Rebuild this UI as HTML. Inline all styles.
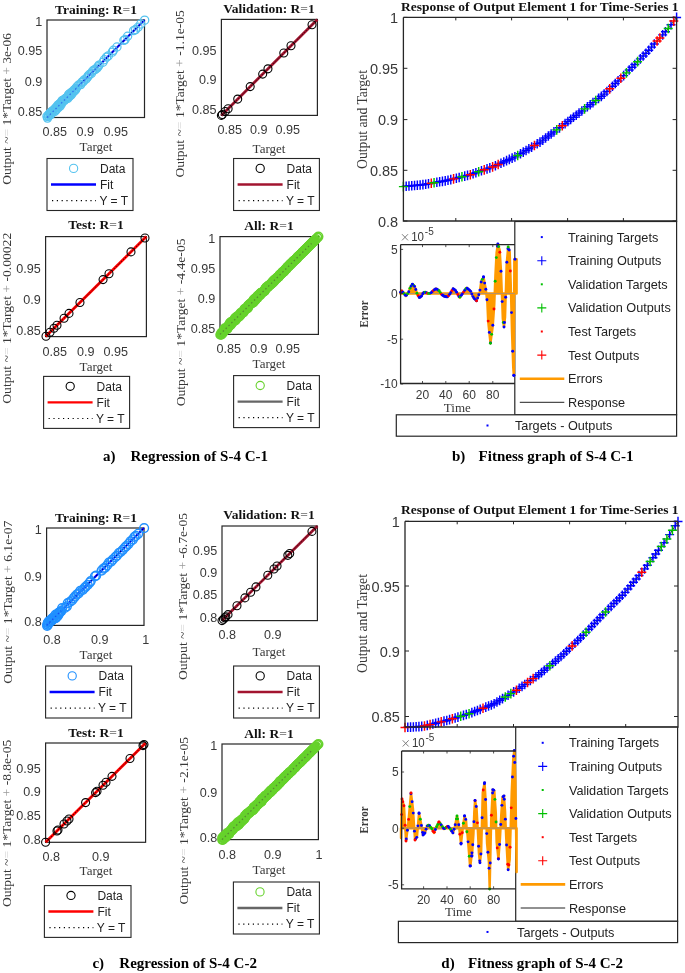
<!DOCTYPE html>
<html><head><meta charset="utf-8"><style>
html,body{margin:0;padding:0;background:#fff;width:685px;height:973px;overflow:hidden}
svg{display:block;filter:blur(0.35px)}
text{font-kerning:normal}
</style></head><body>
<svg width="685" height="973" viewBox="0 0 685 973">
<rect width="685" height="973" fill="#fff"/>
<rect x="47" y="20" width="97.5" height="97.5" fill="none" stroke="#262626" stroke-width="1.2"/>
<line x1="47" y1="117.5" x2="144.5" y2="20" stroke="#0000ff" stroke-width="2.2"/>
<line x1="47" y1="117.5" x2="144.5" y2="20" stroke="#000" stroke-width="0.9" stroke-dasharray="1 1.6"/>
<circle cx="47.53" cy="118.06" r="4.1" fill="none" stroke="#55c3ef" stroke-width="1.25"/>
<circle cx="47.01" cy="116.31" r="4.1" fill="none" stroke="#55c3ef" stroke-width="1.25"/>
<circle cx="48.38" cy="116.34" r="4.1" fill="none" stroke="#55c3ef" stroke-width="1.25"/>
<circle cx="48.65" cy="115.66" r="4.1" fill="none" stroke="#55c3ef" stroke-width="1.25"/>
<circle cx="48.77" cy="114.59" r="4.1" fill="none" stroke="#55c3ef" stroke-width="1.25"/>
<circle cx="50.37" cy="114.98" r="4.1" fill="none" stroke="#55c3ef" stroke-width="1.25"/>
<circle cx="49.76" cy="113.39" r="4.1" fill="none" stroke="#55c3ef" stroke-width="1.25"/>
<circle cx="51.36" cy="113.67" r="4.1" fill="none" stroke="#55c3ef" stroke-width="1.25"/>
<circle cx="51.01" cy="112.08" r="4.1" fill="none" stroke="#55c3ef" stroke-width="1.25"/>
<circle cx="52.19" cy="112.02" r="4.1" fill="none" stroke="#55c3ef" stroke-width="1.25"/>
<circle cx="52.23" cy="111.22" r="4.1" fill="none" stroke="#55c3ef" stroke-width="1.25"/>
<circle cx="52.97" cy="110.69" r="4.1" fill="none" stroke="#55c3ef" stroke-width="1.25"/>
<circle cx="54.79" cy="111.44" r="4.1" fill="none" stroke="#55c3ef" stroke-width="1.25"/>
<circle cx="55.24" cy="110.38" r="4.1" fill="none" stroke="#55c3ef" stroke-width="1.25"/>
<circle cx="54.88" cy="108.9" r="4.1" fill="none" stroke="#55c3ef" stroke-width="1.25"/>
<circle cx="56.38" cy="109.54" r="4.1" fill="none" stroke="#55c3ef" stroke-width="1.25"/>
<circle cx="55.94" cy="107.5" r="4.1" fill="none" stroke="#55c3ef" stroke-width="1.25"/>
<circle cx="56.86" cy="107.25" r="4.1" fill="none" stroke="#55c3ef" stroke-width="1.25"/>
<circle cx="58.22" cy="107.59" r="4.1" fill="none" stroke="#55c3ef" stroke-width="1.25"/>
<circle cx="58.4" cy="106.62" r="4.1" fill="none" stroke="#55c3ef" stroke-width="1.25"/>
<circle cx="57.89" cy="105.15" r="4.1" fill="none" stroke="#55c3ef" stroke-width="1.25"/>
<circle cx="60.07" cy="106.23" r="4.1" fill="none" stroke="#55c3ef" stroke-width="1.25"/>
<circle cx="59.35" cy="104.1" r="4.1" fill="none" stroke="#55c3ef" stroke-width="1.25"/>
<circle cx="59.91" cy="103.7" r="4.1" fill="none" stroke="#55c3ef" stroke-width="1.25"/>
<circle cx="61.47" cy="104.03" r="4.1" fill="none" stroke="#55c3ef" stroke-width="1.25"/>
<circle cx="61.25" cy="102.62" r="4.1" fill="none" stroke="#55c3ef" stroke-width="1.25"/>
<circle cx="61.73" cy="102.03" r="4.1" fill="none" stroke="#55c3ef" stroke-width="1.25"/>
<circle cx="62" cy="100.93" r="4.1" fill="none" stroke="#55c3ef" stroke-width="1.25"/>
<circle cx="62.61" cy="100.38" r="4.1" fill="none" stroke="#55c3ef" stroke-width="1.25"/>
<circle cx="64.2" cy="100.61" r="4.1" fill="none" stroke="#55c3ef" stroke-width="1.25"/>
<circle cx="64.08" cy="99.47" r="4.1" fill="none" stroke="#55c3ef" stroke-width="1.25"/>
<circle cx="65.35" cy="99.52" r="4.1" fill="none" stroke="#55c3ef" stroke-width="1.25"/>
<circle cx="65.48" cy="98.54" r="4.1" fill="none" stroke="#55c3ef" stroke-width="1.25"/>
<circle cx="66.26" cy="98.07" r="4.1" fill="none" stroke="#55c3ef" stroke-width="1.25"/>
<circle cx="67.72" cy="98.46" r="4.1" fill="none" stroke="#55c3ef" stroke-width="1.25"/>
<circle cx="67.39" cy="97.05" r="4.1" fill="none" stroke="#55c3ef" stroke-width="1.25"/>
<circle cx="68.31" cy="96.46" r="4.1" fill="none" stroke="#55c3ef" stroke-width="1.25"/>
<circle cx="69.43" cy="96.41" r="4.1" fill="none" stroke="#55c3ef" stroke-width="1.25"/>
<circle cx="68.73" cy="94.61" r="4.1" fill="none" stroke="#55c3ef" stroke-width="1.25"/>
<circle cx="69.23" cy="94" r="4.1" fill="none" stroke="#55c3ef" stroke-width="1.25"/>
<circle cx="71.11" cy="94.89" r="4.1" fill="none" stroke="#55c3ef" stroke-width="1.25"/>
<circle cx="71.51" cy="94.16" r="4.1" fill="none" stroke="#55c3ef" stroke-width="1.25"/>
<circle cx="71.31" cy="92.77" r="4.1" fill="none" stroke="#55c3ef" stroke-width="1.25"/>
<circle cx="71.79" cy="92.18" r="4.1" fill="none" stroke="#55c3ef" stroke-width="1.25"/>
<circle cx="73.01" cy="91.9" r="4.1" fill="none" stroke="#55c3ef" stroke-width="1.25"/>
<circle cx="73.68" cy="91.57" r="4.1" fill="none" stroke="#55c3ef" stroke-width="1.25"/>
<circle cx="73.73" cy="90.25" r="4.1" fill="none" stroke="#55c3ef" stroke-width="1.25"/>
<circle cx="74.85" cy="90.41" r="4.1" fill="none" stroke="#55c3ef" stroke-width="1.25"/>
<circle cx="75.51" cy="89.64" r="4.1" fill="none" stroke="#55c3ef" stroke-width="1.25"/>
<circle cx="75.83" cy="88.84" r="4.1" fill="none" stroke="#55c3ef" stroke-width="1.25"/>
<circle cx="75.91" cy="88.46" r="4.1" fill="none" stroke="#55c3ef" stroke-width="1.25"/>
<circle cx="77.12" cy="86.71" r="4.1" fill="none" stroke="#55c3ef" stroke-width="1.25"/>
<circle cx="78.81" cy="84.9" r="4.1" fill="none" stroke="#55c3ef" stroke-width="1.25"/>
<circle cx="80.72" cy="84.56" r="4.1" fill="none" stroke="#55c3ef" stroke-width="1.25"/>
<circle cx="81.75" cy="82.31" r="4.1" fill="none" stroke="#55c3ef" stroke-width="1.25"/>
<circle cx="83.19" cy="81.65" r="4.1" fill="none" stroke="#55c3ef" stroke-width="1.25"/>
<circle cx="84" cy="80.09" r="4.1" fill="none" stroke="#55c3ef" stroke-width="1.25"/>
<circle cx="86.15" cy="78.9" r="4.1" fill="none" stroke="#55c3ef" stroke-width="1.25"/>
<circle cx="87.4" cy="77.26" r="4.1" fill="none" stroke="#55c3ef" stroke-width="1.25"/>
<circle cx="88.23" cy="75.92" r="4.1" fill="none" stroke="#55c3ef" stroke-width="1.25"/>
<circle cx="89.4" cy="74.55" r="4.1" fill="none" stroke="#55c3ef" stroke-width="1.25"/>
<circle cx="91.36" cy="73.51" r="4.1" fill="none" stroke="#55c3ef" stroke-width="1.25"/>
<circle cx="92.52" cy="71.25" r="4.1" fill="none" stroke="#55c3ef" stroke-width="1.25"/>
<circle cx="93.91" cy="70.13" r="4.1" fill="none" stroke="#55c3ef" stroke-width="1.25"/>
<circle cx="95.2" cy="69.4" r="4.1" fill="none" stroke="#55c3ef" stroke-width="1.25"/>
<circle cx="96.89" cy="68.21" r="4.1" fill="none" stroke="#55c3ef" stroke-width="1.25"/>
<circle cx="97.97" cy="66.72" r="4.1" fill="none" stroke="#55c3ef" stroke-width="1.25"/>
<circle cx="99.03" cy="65.1" r="4.1" fill="none" stroke="#55c3ef" stroke-width="1.25"/>
<circle cx="102.93" cy="62.28" r="4.1" fill="none" stroke="#55c3ef" stroke-width="1.25"/>
<circle cx="104.27" cy="59.72" r="4.1" fill="none" stroke="#55c3ef" stroke-width="1.25"/>
<circle cx="106.55" cy="57.13" r="4.1" fill="none" stroke="#55c3ef" stroke-width="1.25"/>
<circle cx="108.23" cy="55.88" r="4.1" fill="none" stroke="#55c3ef" stroke-width="1.25"/>
<circle cx="112.28" cy="52.13" r="4.1" fill="none" stroke="#55c3ef" stroke-width="1.25"/>
<circle cx="113.41" cy="50.34" r="4.1" fill="none" stroke="#55c3ef" stroke-width="1.25"/>
<circle cx="116.93" cy="47.03" r="4.1" fill="none" stroke="#55c3ef" stroke-width="1.25"/>
<circle cx="123.91" cy="40.36" r="4.1" fill="none" stroke="#55c3ef" stroke-width="1.25"/>
<circle cx="125.06" cy="39.56" r="4.1" fill="none" stroke="#55c3ef" stroke-width="1.25"/>
<circle cx="127.61" cy="36.26" r="4.1" fill="none" stroke="#55c3ef" stroke-width="1.25"/>
<circle cx="133.66" cy="30.61" r="4.1" fill="none" stroke="#55c3ef" stroke-width="1.25"/>
<circle cx="135.57" cy="29.59" r="4.1" fill="none" stroke="#55c3ef" stroke-width="1.25"/>
<circle cx="138.08" cy="27.23" r="4.1" fill="none" stroke="#55c3ef" stroke-width="1.25"/>
<circle cx="140.73" cy="24.03" r="4.1" fill="none" stroke="#55c3ef" stroke-width="1.25"/>
<circle cx="144.66" cy="20.16" r="4.1" fill="none" stroke="#55c3ef" stroke-width="1.25"/>
<line x1="47" y1="117.5" x2="95.75" y2="68.75" stroke="#2050f0" stroke-width="1.3" stroke-dasharray="1.5 2.5" opacity="0.7"/>
<text x="42.2" y="25.54" font-size="12.6" text-anchor="end" font-family="'Liberation Sans', sans-serif" font-weight="normal" fill="#383838">1</text>
<text x="42.2" y="55.24" font-size="12.6" text-anchor="end" font-family="'Liberation Sans', sans-serif" font-weight="normal" fill="#383838">0.95</text>
<text x="42.2" y="85.84" font-size="12.6" text-anchor="end" font-family="'Liberation Sans', sans-serif" font-weight="normal" fill="#383838">0.9</text>
<text x="42.2" y="115.54" font-size="12.6" text-anchor="end" font-family="'Liberation Sans', sans-serif" font-weight="normal" fill="#383838">0.85</text>
<text x="54.7" y="136.04" font-size="12.6" text-anchor="middle" font-family="'Liberation Sans', sans-serif" font-weight="normal" fill="#383838">0.85</text>
<text x="85.2" y="136.04" font-size="12.6" text-anchor="middle" font-family="'Liberation Sans', sans-serif" font-weight="normal" fill="#383838">0.9</text>
<text x="115.7" y="136.04" font-size="12.6" text-anchor="middle" font-family="'Liberation Sans', sans-serif" font-weight="normal" fill="#383838">0.95</text>
<text x="96" y="150.9" font-size="13" text-anchor="middle" font-family="'Liberation Serif', serif" font-weight="normal" fill="#383838">Target</text>
<text x="96" y="13.86" font-size="13.5" text-anchor="middle" font-family="'Liberation Serif', serif" font-weight="bold" fill="#111">Training: R<tspan fill="#8c8c8c">=</tspan>1</text>
<text x="11.1" y="184.7" font-size="13.5" text-anchor="start" font-family="'Liberation Serif', serif" font-weight="normal" fill="#383838" transform="rotate(-90 11.1 184.7)" textLength="151.7" lengthAdjust="spacingAndGlyphs">Output ~<tspan fill="#d8d8d8">=</tspan> 1*Target <tspan fill="#9a9a9a">+</tspan> 3e-06</text>
<rect x="47" y="158.5" width="86" height="52" fill="#fff" stroke="#262626" stroke-width="1.1"/>
<circle cx="73.6" cy="168.38" r="4.1" fill="none" stroke="#55c3ef" stroke-width="1.1"/>
<text x="100" y="172.7" font-size="12" text-anchor="start" font-family="'Liberation Sans', sans-serif" font-weight="normal" fill="#222">Data</text>
<line x1="51" y1="184.5" x2="96" y2="184.5" stroke="#0000ff" stroke-width="2.4"/>
<text x="100" y="188.82" font-size="12" text-anchor="start" font-family="'Liberation Sans', sans-serif" font-weight="normal" fill="#222">Fit</text>
<line x1="52" y1="200.62" x2="96" y2="200.62" stroke="#000" stroke-width="1.2" stroke-dasharray="1.2 3.6"/>
<text x="99.4" y="204.94" font-size="12" text-anchor="start" font-family="'Liberation Sans', sans-serif" font-weight="normal" fill="#222">Y = T</text>
<rect x="221.4" y="19.4" width="96" height="96" fill="none" stroke="#262626" stroke-width="1.2"/>
<line x1="221.4" y1="115.4" x2="317.4" y2="19.4" stroke="#a2142f" stroke-width="2.8"/>
<line x1="221.4" y1="115.4" x2="317.4" y2="19.4" stroke="#000" stroke-width="0.9" stroke-dasharray="1 1.6"/>
<circle cx="221.4" cy="115.4" r="4.0" fill="none" stroke="#000" stroke-width="1.1"/>
<circle cx="222.36" cy="114.44" r="4.0" fill="none" stroke="#000" stroke-width="1.1"/>
<circle cx="225.24" cy="111.56" r="4.0" fill="none" stroke="#000" stroke-width="1.1"/>
<circle cx="228.12" cy="108.68" r="4.0" fill="none" stroke="#000" stroke-width="1.1"/>
<circle cx="237.72" cy="99.08" r="4.0" fill="none" stroke="#000" stroke-width="1.1"/>
<circle cx="250.2" cy="86.6" r="4.0" fill="none" stroke="#000" stroke-width="1.1"/>
<circle cx="262.68" cy="74.12" r="4.0" fill="none" stroke="#000" stroke-width="1.1"/>
<circle cx="267.96" cy="68.84" r="4.0" fill="none" stroke="#000" stroke-width="1.1"/>
<circle cx="283.8" cy="53" r="4.0" fill="none" stroke="#000" stroke-width="1.1"/>
<circle cx="291" cy="45.8" r="4.0" fill="none" stroke="#000" stroke-width="1.1"/>
<circle cx="312.02" cy="24.78" r="4.0" fill="none" stroke="#000" stroke-width="1.1"/>
<text x="216.6" y="54.54" font-size="12.6" text-anchor="end" font-family="'Liberation Sans', sans-serif" font-weight="normal" fill="#383838">0.95</text>
<text x="216.6" y="84.04" font-size="12.6" text-anchor="end" font-family="'Liberation Sans', sans-serif" font-weight="normal" fill="#383838">0.9</text>
<text x="216.6" y="113.54" font-size="12.6" text-anchor="end" font-family="'Liberation Sans', sans-serif" font-weight="normal" fill="#383838">0.85</text>
<text x="229.7" y="134.04" font-size="12.6" text-anchor="middle" font-family="'Liberation Sans', sans-serif" font-weight="normal" fill="#383838">0.85</text>
<text x="258.7" y="134.04" font-size="12.6" text-anchor="middle" font-family="'Liberation Sans', sans-serif" font-weight="normal" fill="#383838">0.9</text>
<text x="287.7" y="134.04" font-size="12.6" text-anchor="middle" font-family="'Liberation Sans', sans-serif" font-weight="normal" fill="#383838">0.95</text>
<text x="269" y="152.9" font-size="13" text-anchor="middle" font-family="'Liberation Serif', serif" font-weight="normal" fill="#383838">Target</text>
<text x="269" y="13.36" font-size="13.5" text-anchor="middle" font-family="'Liberation Serif', serif" font-weight="bold" fill="#111">Validation: R<tspan fill="#8c8c8c">=</tspan>1</text>
<text x="184" y="177.6" font-size="13.5" text-anchor="start" font-family="'Liberation Serif', serif" font-weight="normal" fill="#383838" transform="rotate(-90 184 177.6)" textLength="167.4" lengthAdjust="spacingAndGlyphs">Output ~<tspan fill="#d8d8d8">=</tspan> 1*Target <tspan fill="#9a9a9a">+</tspan> -1.1e-05</text>
<rect x="233.6" y="158.5" width="85.8" height="52" fill="#fff" stroke="#262626" stroke-width="1.1"/>
<circle cx="260.2" cy="168.38" r="4.1" fill="none" stroke="#000" stroke-width="1.1"/>
<text x="286.6" y="172.7" font-size="12" text-anchor="start" font-family="'Liberation Sans', sans-serif" font-weight="normal" fill="#222">Data</text>
<line x1="237.6" y1="184.5" x2="282.6" y2="184.5" stroke="#a2142f" stroke-width="2.4"/>
<text x="286.6" y="188.82" font-size="12" text-anchor="start" font-family="'Liberation Sans', sans-serif" font-weight="normal" fill="#222">Fit</text>
<line x1="238.6" y1="200.62" x2="282.6" y2="200.62" stroke="#000" stroke-width="1.2" stroke-dasharray="1.2 3.6"/>
<text x="286" y="204.94" font-size="12" text-anchor="start" font-family="'Liberation Sans', sans-serif" font-weight="normal" fill="#222">Y = T</text>
<rect x="45.6" y="236.6" width="100.8" height="100" fill="none" stroke="#262626" stroke-width="1.2"/>
<line x1="45.6" y1="336.6" x2="146.4" y2="236.6" stroke="#ff0000" stroke-width="2.8"/>
<line x1="45.6" y1="336.6" x2="146.4" y2="236.6" stroke="#000" stroke-width="0.9" stroke-dasharray="1 1.6"/>
<circle cx="46" cy="336.2" r="4.0" fill="none" stroke="#000" stroke-width="1.1"/>
<circle cx="50.04" cy="332.2" r="4.0" fill="none" stroke="#000" stroke-width="1.1"/>
<circle cx="53.97" cy="328.3" r="4.0" fill="none" stroke="#000" stroke-width="1.1"/>
<circle cx="56.99" cy="325.3" r="4.0" fill="none" stroke="#000" stroke-width="1.1"/>
<circle cx="64.05" cy="318.3" r="4.0" fill="none" stroke="#000" stroke-width="1.1"/>
<circle cx="68.99" cy="313.4" r="4.0" fill="none" stroke="#000" stroke-width="1.1"/>
<circle cx="79.97" cy="302.5" r="4.0" fill="none" stroke="#000" stroke-width="1.1"/>
<circle cx="103.06" cy="279.6" r="4.0" fill="none" stroke="#000" stroke-width="1.1"/>
<circle cx="109" cy="273.7" r="4.0" fill="none" stroke="#000" stroke-width="1.1"/>
<circle cx="130.98" cy="251.9" r="4.0" fill="none" stroke="#000" stroke-width="1.1"/>
<circle cx="144.99" cy="238" r="4.0" fill="none" stroke="#000" stroke-width="1.1"/>
<text x="40.8" y="272.54" font-size="12.6" text-anchor="end" font-family="'Liberation Sans', sans-serif" font-weight="normal" fill="#383838">0.95</text>
<text x="40.8" y="303.54" font-size="12.6" text-anchor="end" font-family="'Liberation Sans', sans-serif" font-weight="normal" fill="#383838">0.9</text>
<text x="40.8" y="334.54" font-size="12.6" text-anchor="end" font-family="'Liberation Sans', sans-serif" font-weight="normal" fill="#383838">0.85</text>
<text x="54.7" y="355.64" font-size="12.6" text-anchor="middle" font-family="'Liberation Sans', sans-serif" font-weight="normal" fill="#383838">0.85</text>
<text x="85.7" y="355.64" font-size="12.6" text-anchor="middle" font-family="'Liberation Sans', sans-serif" font-weight="normal" fill="#383838">0.9</text>
<text x="115.7" y="355.64" font-size="12.6" text-anchor="middle" font-family="'Liberation Sans', sans-serif" font-weight="normal" fill="#383838">0.95</text>
<text x="96" y="370.5" font-size="13" text-anchor="middle" font-family="'Liberation Serif', serif" font-weight="normal" fill="#383838">Target</text>
<text x="96" y="229.46" font-size="13.5" text-anchor="middle" font-family="'Liberation Serif', serif" font-weight="bold" fill="#111">Test: R<tspan fill="#8c8c8c">=</tspan>1</text>
<text x="10.7" y="403.7" font-size="13.5" text-anchor="start" font-family="'Liberation Serif', serif" font-weight="normal" fill="#383838" transform="rotate(-90 10.7 403.7)" textLength="170.9" lengthAdjust="spacingAndGlyphs">Output ~<tspan fill="#d8d8d8">=</tspan> 1*Target <tspan fill="#9a9a9a">+</tspan> -0.00022</text>
<rect x="43.6" y="376.4" width="86" height="52" fill="#fff" stroke="#262626" stroke-width="1.1"/>
<circle cx="70.2" cy="386.28" r="4.1" fill="none" stroke="#000" stroke-width="1.1"/>
<text x="96.6" y="390.6" font-size="12" text-anchor="start" font-family="'Liberation Sans', sans-serif" font-weight="normal" fill="#222">Data</text>
<line x1="47.6" y1="402.4" x2="92.6" y2="402.4" stroke="#ff0000" stroke-width="2.4"/>
<text x="96.6" y="406.72" font-size="12" text-anchor="start" font-family="'Liberation Sans', sans-serif" font-weight="normal" fill="#222">Fit</text>
<line x1="48.6" y1="418.52" x2="92.6" y2="418.52" stroke="#000" stroke-width="1.2" stroke-dasharray="1.2 3.6"/>
<text x="96" y="422.84" font-size="12" text-anchor="start" font-family="'Liberation Sans', sans-serif" font-weight="normal" fill="#222">Y = T</text>
<rect x="220" y="236.6" width="98.4" height="97.8" fill="none" stroke="#262626" stroke-width="1.2"/>
<line x1="220" y1="334.4" x2="318.4" y2="236.6" stroke="#666666" stroke-width="2.2"/>
<line x1="220" y1="334.4" x2="318.4" y2="236.6" stroke="#000" stroke-width="0.9" stroke-dasharray="1 1.6"/>
<circle cx="220.34" cy="334.74" r="4.3" fill="none" stroke="#66d22c" stroke-width="1.6"/>
<circle cx="221.22" cy="334.65" r="4.3" fill="none" stroke="#66d22c" stroke-width="1.6"/>
<circle cx="221.66" cy="334.1" r="4.3" fill="none" stroke="#66d22c" stroke-width="1.6"/>
<circle cx="221.33" cy="332.78" r="4.3" fill="none" stroke="#66d22c" stroke-width="1.6"/>
<circle cx="222.49" cy="332.97" r="4.3" fill="none" stroke="#66d22c" stroke-width="1.6"/>
<circle cx="223.11" cy="332.61" r="4.3" fill="none" stroke="#66d22c" stroke-width="1.6"/>
<circle cx="223.08" cy="331.6" r="4.3" fill="none" stroke="#66d22c" stroke-width="1.6"/>
<circle cx="223.67" cy="331.2" r="4.3" fill="none" stroke="#66d22c" stroke-width="1.6"/>
<circle cx="223.73" cy="330.28" r="4.3" fill="none" stroke="#66d22c" stroke-width="1.6"/>
<circle cx="224.57" cy="330.14" r="4.3" fill="none" stroke="#66d22c" stroke-width="1.6"/>
<circle cx="225.11" cy="329.7" r="4.3" fill="none" stroke="#66d22c" stroke-width="1.6"/>
<circle cx="224.68" cy="328.29" r="4.3" fill="none" stroke="#66d22c" stroke-width="1.6"/>
<circle cx="226.14" cy="328.77" r="4.3" fill="none" stroke="#66d22c" stroke-width="1.6"/>
<circle cx="227.24" cy="328.89" r="4.3" fill="none" stroke="#66d22c" stroke-width="1.6"/>
<circle cx="227.54" cy="328.21" r="4.3" fill="none" stroke="#66d22c" stroke-width="1.6"/>
<circle cx="227.77" cy="327.45" r="4.3" fill="none" stroke="#66d22c" stroke-width="1.6"/>
<circle cx="227.68" cy="326.39" r="4.3" fill="none" stroke="#66d22c" stroke-width="1.6"/>
<circle cx="228.76" cy="326.48" r="4.3" fill="none" stroke="#66d22c" stroke-width="1.6"/>
<circle cx="228.99" cy="325.73" r="4.3" fill="none" stroke="#66d22c" stroke-width="1.6"/>
<circle cx="229.25" cy="325.01" r="4.3" fill="none" stroke="#66d22c" stroke-width="1.6"/>
<circle cx="230.4" cy="325.18" r="4.3" fill="none" stroke="#66d22c" stroke-width="1.6"/>
<circle cx="229.65" cy="323.44" r="4.3" fill="none" stroke="#66d22c" stroke-width="1.6"/>
<circle cx="231.23" cy="324.05" r="4.3" fill="none" stroke="#66d22c" stroke-width="1.6"/>
<circle cx="230.55" cy="322.39" r="4.3" fill="none" stroke="#66d22c" stroke-width="1.6"/>
<circle cx="231.97" cy="322.83" r="4.3" fill="none" stroke="#66d22c" stroke-width="1.6"/>
<circle cx="232.27" cy="322.14" r="4.3" fill="none" stroke="#66d22c" stroke-width="1.6"/>
<circle cx="232.36" cy="321.25" r="4.3" fill="none" stroke="#66d22c" stroke-width="1.6"/>
<circle cx="233.6" cy="321.51" r="4.3" fill="none" stroke="#66d22c" stroke-width="1.6"/>
<circle cx="233.77" cy="320.7" r="4.3" fill="none" stroke="#66d22c" stroke-width="1.6"/>
<circle cx="234.45" cy="320.4" r="4.3" fill="none" stroke="#66d22c" stroke-width="1.6"/>
<circle cx="235.42" cy="320.39" r="4.3" fill="none" stroke="#66d22c" stroke-width="1.6"/>
<circle cx="234.87" cy="318.86" r="4.3" fill="none" stroke="#66d22c" stroke-width="1.6"/>
<circle cx="234.99" cy="317.99" r="4.3" fill="none" stroke="#66d22c" stroke-width="1.6"/>
<circle cx="235.93" cy="317.96" r="4.3" fill="none" stroke="#66d22c" stroke-width="1.6"/>
<circle cx="237" cy="318.05" r="4.3" fill="none" stroke="#66d22c" stroke-width="1.6"/>
<circle cx="236.77" cy="316.83" r="4.3" fill="none" stroke="#66d22c" stroke-width="1.6"/>
<circle cx="237.22" cy="316.3" r="4.3" fill="none" stroke="#66d22c" stroke-width="1.6"/>
<circle cx="238.81" cy="316.92" r="4.3" fill="none" stroke="#66d22c" stroke-width="1.6"/>
<circle cx="238.93" cy="316.06" r="4.3" fill="none" stroke="#66d22c" stroke-width="1.6"/>
<circle cx="239.1" cy="315.24" r="4.3" fill="none" stroke="#66d22c" stroke-width="1.6"/>
<circle cx="240.25" cy="315.42" r="4.3" fill="none" stroke="#66d22c" stroke-width="1.6"/>
<circle cx="239.92" cy="314.1" r="4.3" fill="none" stroke="#66d22c" stroke-width="1.6"/>
<circle cx="240.9" cy="314.1" r="4.3" fill="none" stroke="#66d22c" stroke-width="1.6"/>
<circle cx="240.72" cy="312.94" r="4.3" fill="none" stroke="#66d22c" stroke-width="1.6"/>
<circle cx="241.55" cy="312.78" r="4.3" fill="none" stroke="#66d22c" stroke-width="1.6"/>
<circle cx="242.57" cy="312.83" r="4.3" fill="none" stroke="#66d22c" stroke-width="1.6"/>
<circle cx="243.22" cy="312.49" r="4.3" fill="none" stroke="#66d22c" stroke-width="1.6"/>
<circle cx="243.66" cy="311.95" r="4.3" fill="none" stroke="#66d22c" stroke-width="1.6"/>
<circle cx="243.45" cy="310.77" r="4.3" fill="none" stroke="#66d22c" stroke-width="1.6"/>
<circle cx="244.22" cy="310.55" r="4.3" fill="none" stroke="#66d22c" stroke-width="1.6"/>
<circle cx="244.35" cy="309.7" r="4.3" fill="none" stroke="#66d22c" stroke-width="1.6"/>
<circle cx="244.6" cy="308.96" r="4.3" fill="none" stroke="#66d22c" stroke-width="1.6"/>
<circle cx="245.58" cy="308.97" r="4.3" fill="none" stroke="#66d22c" stroke-width="1.6"/>
<circle cx="246.53" cy="308.94" r="4.3" fill="none" stroke="#66d22c" stroke-width="1.6"/>
<circle cx="247.03" cy="308.46" r="4.3" fill="none" stroke="#66d22c" stroke-width="1.6"/>
<circle cx="247.34" cy="307.79" r="4.3" fill="none" stroke="#66d22c" stroke-width="1.6"/>
<circle cx="248.15" cy="307.61" r="4.3" fill="none" stroke="#66d22c" stroke-width="1.6"/>
<circle cx="247.75" cy="306.23" r="4.3" fill="none" stroke="#66d22c" stroke-width="1.6"/>
<circle cx="248.11" cy="305.6" r="4.3" fill="none" stroke="#66d22c" stroke-width="1.6"/>
<circle cx="248.96" cy="305.48" r="4.3" fill="none" stroke="#66d22c" stroke-width="1.6"/>
<circle cx="249.23" cy="304.77" r="4.3" fill="none" stroke="#66d22c" stroke-width="1.6"/>
<circle cx="249.65" cy="304.2" r="4.3" fill="none" stroke="#66d22c" stroke-width="1.6"/>
<circle cx="250.4" cy="303.97" r="4.3" fill="none" stroke="#66d22c" stroke-width="1.6"/>
<circle cx="251.15" cy="303.75" r="4.3" fill="none" stroke="#66d22c" stroke-width="1.6"/>
<circle cx="251.48" cy="303.1" r="4.3" fill="none" stroke="#66d22c" stroke-width="1.6"/>
<circle cx="251.75" cy="302.39" r="4.3" fill="none" stroke="#66d22c" stroke-width="1.6"/>
<circle cx="252.89" cy="302.54" r="4.3" fill="none" stroke="#66d22c" stroke-width="1.6"/>
<circle cx="253.55" cy="302.23" r="4.3" fill="none" stroke="#66d22c" stroke-width="1.6"/>
<circle cx="253.4" cy="301.09" r="4.3" fill="none" stroke="#66d22c" stroke-width="1.6"/>
<circle cx="253.44" cy="300.15" r="4.3" fill="none" stroke="#66d22c" stroke-width="1.6"/>
<circle cx="253.88" cy="299.61" r="4.3" fill="none" stroke="#66d22c" stroke-width="1.6"/>
<circle cx="255.37" cy="300.12" r="4.3" fill="none" stroke="#66d22c" stroke-width="1.6"/>
<circle cx="254.89" cy="298.65" r="4.3" fill="none" stroke="#66d22c" stroke-width="1.6"/>
<circle cx="256.16" cy="298.95" r="4.3" fill="none" stroke="#66d22c" stroke-width="1.6"/>
<circle cx="256.49" cy="298.3" r="4.3" fill="none" stroke="#66d22c" stroke-width="1.6"/>
<circle cx="256.68" cy="297.5" r="4.3" fill="none" stroke="#66d22c" stroke-width="1.6"/>
<circle cx="257.72" cy="297.57" r="4.3" fill="none" stroke="#66d22c" stroke-width="1.6"/>
<circle cx="257.34" cy="296.2" r="4.3" fill="none" stroke="#66d22c" stroke-width="1.6"/>
<circle cx="257.97" cy="295.85" r="4.3" fill="none" stroke="#66d22c" stroke-width="1.6"/>
<circle cx="258.82" cy="295.72" r="4.3" fill="none" stroke="#66d22c" stroke-width="1.6"/>
<circle cx="258.84" cy="294.75" r="4.3" fill="none" stroke="#66d22c" stroke-width="1.6"/>
<circle cx="260.21" cy="295.15" r="4.3" fill="none" stroke="#66d22c" stroke-width="1.6"/>
<circle cx="260.06" cy="294.02" r="4.3" fill="none" stroke="#66d22c" stroke-width="1.6"/>
<circle cx="260.45" cy="293.43" r="4.3" fill="none" stroke="#66d22c" stroke-width="1.6"/>
<circle cx="260.85" cy="292.84" r="4.3" fill="none" stroke="#66d22c" stroke-width="1.6"/>
<circle cx="261.96" cy="292.97" r="4.3" fill="none" stroke="#66d22c" stroke-width="1.6"/>
<circle cx="262.26" cy="292.29" r="4.3" fill="none" stroke="#66d22c" stroke-width="1.6"/>
<circle cx="262.94" cy="291.99" r="4.3" fill="none" stroke="#66d22c" stroke-width="1.6"/>
<circle cx="263.46" cy="291.53" r="4.3" fill="none" stroke="#66d22c" stroke-width="1.6"/>
<circle cx="264.1" cy="291.19" r="4.3" fill="none" stroke="#66d22c" stroke-width="1.6"/>
<circle cx="264.74" cy="290.85" r="4.3" fill="none" stroke="#66d22c" stroke-width="1.6"/>
<circle cx="264.96" cy="290.09" r="4.3" fill="none" stroke="#66d22c" stroke-width="1.6"/>
<circle cx="264.97" cy="289.11" r="4.3" fill="none" stroke="#66d22c" stroke-width="1.6"/>
<circle cx="265.73" cy="288.9" r="4.3" fill="none" stroke="#66d22c" stroke-width="1.6"/>
<circle cx="265.94" cy="288.12" r="4.3" fill="none" stroke="#66d22c" stroke-width="1.6"/>
<circle cx="266.27" cy="287.47" r="4.3" fill="none" stroke="#66d22c" stroke-width="1.6"/>
<circle cx="267.21" cy="287.43" r="4.3" fill="none" stroke="#66d22c" stroke-width="1.6"/>
<circle cx="267.93" cy="287.17" r="4.3" fill="none" stroke="#66d22c" stroke-width="1.6"/>
<circle cx="267.92" cy="286.18" r="4.3" fill="none" stroke="#66d22c" stroke-width="1.6"/>
<circle cx="268.5" cy="285.78" r="4.3" fill="none" stroke="#66d22c" stroke-width="1.6"/>
<circle cx="269.06" cy="285.36" r="4.3" fill="none" stroke="#66d22c" stroke-width="1.6"/>
<circle cx="269.87" cy="285.19" r="4.3" fill="none" stroke="#66d22c" stroke-width="1.6"/>
<circle cx="270.2" cy="284.54" r="4.3" fill="none" stroke="#66d22c" stroke-width="1.6"/>
<circle cx="270.78" cy="284.14" r="4.3" fill="none" stroke="#66d22c" stroke-width="1.6"/>
<circle cx="271.39" cy="283.77" r="4.3" fill="none" stroke="#66d22c" stroke-width="1.6"/>
<circle cx="271.57" cy="282.96" r="4.3" fill="none" stroke="#66d22c" stroke-width="1.6"/>
<circle cx="272.4" cy="282.82" r="4.3" fill="none" stroke="#66d22c" stroke-width="1.6"/>
<circle cx="272.99" cy="282.43" r="4.3" fill="none" stroke="#66d22c" stroke-width="1.6"/>
<circle cx="272.79" cy="281.24" r="4.3" fill="none" stroke="#66d22c" stroke-width="1.6"/>
<circle cx="273.99" cy="281.46" r="4.3" fill="none" stroke="#66d22c" stroke-width="1.6"/>
<circle cx="274.3" cy="280.79" r="4.3" fill="none" stroke="#66d22c" stroke-width="1.6"/>
<circle cx="274.31" cy="279.82" r="4.3" fill="none" stroke="#66d22c" stroke-width="1.6"/>
<circle cx="275.07" cy="279.59" r="4.3" fill="none" stroke="#66d22c" stroke-width="1.6"/>
<circle cx="275.7" cy="279.24" r="4.3" fill="none" stroke="#66d22c" stroke-width="1.6"/>
<circle cx="276.41" cy="278.98" r="4.3" fill="none" stroke="#66d22c" stroke-width="1.6"/>
<circle cx="276.48" cy="278.07" r="4.3" fill="none" stroke="#66d22c" stroke-width="1.6"/>
<circle cx="277.12" cy="277.73" r="4.3" fill="none" stroke="#66d22c" stroke-width="1.6"/>
<circle cx="277.85" cy="277.48" r="4.3" fill="none" stroke="#66d22c" stroke-width="1.6"/>
<circle cx="278.28" cy="276.92" r="4.3" fill="none" stroke="#66d22c" stroke-width="1.6"/>
<circle cx="278.88" cy="276.54" r="4.3" fill="none" stroke="#66d22c" stroke-width="1.6"/>
<circle cx="279.01" cy="275.69" r="4.3" fill="none" stroke="#66d22c" stroke-width="1.6"/>
<circle cx="279.64" cy="275.34" r="4.3" fill="none" stroke="#66d22c" stroke-width="1.6"/>
<circle cx="279.81" cy="274.53" r="4.3" fill="none" stroke="#66d22c" stroke-width="1.6"/>
<circle cx="280.67" cy="274.41" r="4.3" fill="none" stroke="#66d22c" stroke-width="1.6"/>
<circle cx="281.23" cy="273.99" r="4.3" fill="none" stroke="#66d22c" stroke-width="1.6"/>
<circle cx="281.6" cy="273.37" r="4.3" fill="none" stroke="#66d22c" stroke-width="1.6"/>
<circle cx="282.14" cy="272.93" r="4.3" fill="none" stroke="#66d22c" stroke-width="1.6"/>
<circle cx="282.29" cy="272.1" r="4.3" fill="none" stroke="#66d22c" stroke-width="1.6"/>
<circle cx="283.24" cy="272.07" r="4.3" fill="none" stroke="#66d22c" stroke-width="1.6"/>
<circle cx="283.78" cy="271.63" r="4.3" fill="none" stroke="#66d22c" stroke-width="1.6"/>
<circle cx="284.27" cy="271.14" r="4.3" fill="none" stroke="#66d22c" stroke-width="1.6"/>
<circle cx="284.48" cy="270.36" r="4.3" fill="none" stroke="#66d22c" stroke-width="1.6"/>
<circle cx="285.13" cy="270.03" r="4.3" fill="none" stroke="#66d22c" stroke-width="1.6"/>
<circle cx="285.33" cy="269.25" r="4.3" fill="none" stroke="#66d22c" stroke-width="1.6"/>
<circle cx="286.18" cy="269.12" r="4.3" fill="none" stroke="#66d22c" stroke-width="1.6"/>
<circle cx="286.63" cy="268.6" r="4.3" fill="none" stroke="#66d22c" stroke-width="1.6"/>
<circle cx="286.82" cy="267.81" r="4.3" fill="none" stroke="#66d22c" stroke-width="1.6"/>
<circle cx="287.16" cy="267.16" r="4.3" fill="none" stroke="#66d22c" stroke-width="1.6"/>
<circle cx="287.86" cy="266.88" r="4.3" fill="none" stroke="#66d22c" stroke-width="1.6"/>
<circle cx="288.42" cy="266.46" r="4.3" fill="none" stroke="#66d22c" stroke-width="1.6"/>
<circle cx="289.03" cy="266.09" r="4.3" fill="none" stroke="#66d22c" stroke-width="1.6"/>
<circle cx="289.37" cy="265.44" r="4.3" fill="none" stroke="#66d22c" stroke-width="1.6"/>
<circle cx="289.61" cy="264.71" r="4.3" fill="none" stroke="#66d22c" stroke-width="1.6"/>
<circle cx="290.52" cy="264.64" r="4.3" fill="none" stroke="#66d22c" stroke-width="1.6"/>
<circle cx="290.62" cy="263.76" r="4.3" fill="none" stroke="#66d22c" stroke-width="1.6"/>
<circle cx="291.49" cy="263.65" r="4.3" fill="none" stroke="#66d22c" stroke-width="1.6"/>
<circle cx="291.67" cy="262.84" r="4.3" fill="none" stroke="#66d22c" stroke-width="1.6"/>
<circle cx="292.24" cy="262.44" r="4.3" fill="none" stroke="#66d22c" stroke-width="1.6"/>
<circle cx="292.95" cy="262.17" r="4.3" fill="none" stroke="#66d22c" stroke-width="1.6"/>
<circle cx="293.14" cy="261.37" r="4.3" fill="none" stroke="#66d22c" stroke-width="1.6"/>
<circle cx="293.64" cy="260.89" r="4.3" fill="none" stroke="#66d22c" stroke-width="1.6"/>
<circle cx="294.3" cy="260.57" r="4.3" fill="none" stroke="#66d22c" stroke-width="1.6"/>
<circle cx="294.88" cy="260.17" r="4.3" fill="none" stroke="#66d22c" stroke-width="1.6"/>
<circle cx="295.42" cy="259.73" r="4.3" fill="none" stroke="#66d22c" stroke-width="1.6"/>
<circle cx="295.85" cy="259.17" r="4.3" fill="none" stroke="#66d22c" stroke-width="1.6"/>
<circle cx="296.44" cy="258.79" r="4.3" fill="none" stroke="#66d22c" stroke-width="1.6"/>
<circle cx="296.75" cy="258.11" r="4.3" fill="none" stroke="#66d22c" stroke-width="1.6"/>
<circle cx="297.42" cy="257.81" r="4.3" fill="none" stroke="#66d22c" stroke-width="1.6"/>
<circle cx="297.58" cy="256.98" r="4.3" fill="none" stroke="#66d22c" stroke-width="1.6"/>
<circle cx="298.12" cy="256.54" r="4.3" fill="none" stroke="#66d22c" stroke-width="1.6"/>
<circle cx="298.73" cy="256.17" r="4.3" fill="none" stroke="#66d22c" stroke-width="1.6"/>
<circle cx="299.14" cy="255.6" r="4.3" fill="none" stroke="#66d22c" stroke-width="1.6"/>
<circle cx="299.78" cy="255.26" r="4.3" fill="none" stroke="#66d22c" stroke-width="1.6"/>
<circle cx="300.24" cy="254.74" r="4.3" fill="none" stroke="#66d22c" stroke-width="1.6"/>
<circle cx="300.7" cy="254.21" r="4.3" fill="none" stroke="#66d22c" stroke-width="1.6"/>
<circle cx="301.29" cy="253.83" r="4.3" fill="none" stroke="#66d22c" stroke-width="1.6"/>
<circle cx="301.69" cy="253.24" r="4.3" fill="none" stroke="#66d22c" stroke-width="1.6"/>
<circle cx="302.11" cy="252.68" r="4.3" fill="none" stroke="#66d22c" stroke-width="1.6"/>
<circle cx="302.62" cy="252.21" r="4.3" fill="none" stroke="#66d22c" stroke-width="1.6"/>
<circle cx="303.25" cy="251.86" r="4.3" fill="none" stroke="#66d22c" stroke-width="1.6"/>
<circle cx="303.75" cy="251.38" r="4.3" fill="none" stroke="#66d22c" stroke-width="1.6"/>
<circle cx="304.05" cy="250.7" r="4.3" fill="none" stroke="#66d22c" stroke-width="1.6"/>
<circle cx="304.71" cy="250.38" r="4.3" fill="none" stroke="#66d22c" stroke-width="1.6"/>
<circle cx="305.23" cy="249.92" r="4.3" fill="none" stroke="#66d22c" stroke-width="1.6"/>
<circle cx="305.61" cy="249.32" r="4.3" fill="none" stroke="#66d22c" stroke-width="1.6"/>
<circle cx="306.12" cy="248.84" r="4.3" fill="none" stroke="#66d22c" stroke-width="1.6"/>
<circle cx="306.53" cy="248.27" r="4.3" fill="none" stroke="#66d22c" stroke-width="1.6"/>
<circle cx="307.09" cy="247.85" r="4.3" fill="none" stroke="#66d22c" stroke-width="1.6"/>
<circle cx="307.58" cy="247.36" r="4.3" fill="none" stroke="#66d22c" stroke-width="1.6"/>
<circle cx="308.09" cy="246.89" r="4.3" fill="none" stroke="#66d22c" stroke-width="1.6"/>
<circle cx="308.47" cy="246.29" r="4.3" fill="none" stroke="#66d22c" stroke-width="1.6"/>
<circle cx="309.13" cy="245.97" r="4.3" fill="none" stroke="#66d22c" stroke-width="1.6"/>
<circle cx="309.55" cy="245.4" r="4.3" fill="none" stroke="#66d22c" stroke-width="1.6"/>
<circle cx="310.02" cy="244.9" r="4.3" fill="none" stroke="#66d22c" stroke-width="1.6"/>
<circle cx="310.57" cy="244.47" r="4.3" fill="none" stroke="#66d22c" stroke-width="1.6"/>
<circle cx="311.03" cy="243.94" r="4.3" fill="none" stroke="#66d22c" stroke-width="1.6"/>
<circle cx="311.51" cy="243.44" r="4.3" fill="none" stroke="#66d22c" stroke-width="1.6"/>
<circle cx="312.03" cy="242.98" r="4.3" fill="none" stroke="#66d22c" stroke-width="1.6"/>
<circle cx="312.45" cy="242.42" r="4.3" fill="none" stroke="#66d22c" stroke-width="1.6"/>
<circle cx="312.99" cy="241.98" r="4.3" fill="none" stroke="#66d22c" stroke-width="1.6"/>
<circle cx="313.47" cy="241.48" r="4.3" fill="none" stroke="#66d22c" stroke-width="1.6"/>
<circle cx="314.01" cy="241.04" r="4.3" fill="none" stroke="#66d22c" stroke-width="1.6"/>
<circle cx="314.5" cy="240.54" r="4.3" fill="none" stroke="#66d22c" stroke-width="1.6"/>
<circle cx="314.94" cy="240.01" r="4.3" fill="none" stroke="#66d22c" stroke-width="1.6"/>
<circle cx="315.94" cy="239.05" r="4.3" fill="none" stroke="#66d22c" stroke-width="1.6"/>
<circle cx="317.42" cy="237.58" r="4.3" fill="none" stroke="#66d22c" stroke-width="1.6"/>
<circle cx="318.4" cy="236.6" r="4.3" fill="none" stroke="#66d22c" stroke-width="1.6"/>
<line x1="220" y1="334.4" x2="311.51" y2="243.45" stroke="#4d6d35" stroke-width="1.3" stroke-dasharray="1.5 2.5" opacity="0.7"/>
<text x="215.2" y="242.54" font-size="12.6" text-anchor="end" font-family="'Liberation Sans', sans-serif" font-weight="normal" fill="#383838">1</text>
<text x="215.2" y="272.54" font-size="12.6" text-anchor="end" font-family="'Liberation Sans', sans-serif" font-weight="normal" fill="#383838">0.95</text>
<text x="215.2" y="302.54" font-size="12.6" text-anchor="end" font-family="'Liberation Sans', sans-serif" font-weight="normal" fill="#383838">0.9</text>
<text x="215.2" y="332.54" font-size="12.6" text-anchor="end" font-family="'Liberation Sans', sans-serif" font-weight="normal" fill="#383838">0.85</text>
<text x="228.7" y="353.04" font-size="12.6" text-anchor="middle" font-family="'Liberation Sans', sans-serif" font-weight="normal" fill="#383838">0.85</text>
<text x="258.7" y="353.04" font-size="12.6" text-anchor="middle" font-family="'Liberation Sans', sans-serif" font-weight="normal" fill="#383838">0.9</text>
<text x="287.7" y="353.04" font-size="12.6" text-anchor="middle" font-family="'Liberation Sans', sans-serif" font-weight="normal" fill="#383838">0.95</text>
<text x="269" y="367.9" font-size="13" text-anchor="middle" font-family="'Liberation Serif', serif" font-weight="normal" fill="#383838">Target</text>
<text x="269" y="229.86" font-size="13.5" text-anchor="middle" font-family="'Liberation Serif', serif" font-weight="bold" fill="#111">All: R<tspan fill="#8c8c8c">=</tspan>1</text>
<text x="185" y="406.3" font-size="13.5" text-anchor="start" font-family="'Liberation Serif', serif" font-weight="normal" fill="#383838" transform="rotate(-90 185 406.3)" textLength="167.8" lengthAdjust="spacingAndGlyphs">Output ~<tspan fill="#d8d8d8">=</tspan> 1*Target <tspan fill="#9a9a9a">+</tspan> -4.4e-05</text>
<rect x="233.6" y="375.6" width="85.8" height="52" fill="#fff" stroke="#262626" stroke-width="1.1"/>
<circle cx="260.2" cy="385.48" r="4.1" fill="none" stroke="#66d22c" stroke-width="1.1"/>
<text x="286.6" y="389.8" font-size="12" text-anchor="start" font-family="'Liberation Sans', sans-serif" font-weight="normal" fill="#222">Data</text>
<line x1="237.6" y1="401.6" x2="282.6" y2="401.6" stroke="#666666" stroke-width="2.4"/>
<text x="286.6" y="405.92" font-size="12" text-anchor="start" font-family="'Liberation Sans', sans-serif" font-weight="normal" fill="#222">Fit</text>
<line x1="238.6" y1="417.72" x2="282.6" y2="417.72" stroke="#000" stroke-width="1.2" stroke-dasharray="1.2 3.6"/>
<text x="286" y="422.04" font-size="12" text-anchor="start" font-family="'Liberation Sans', sans-serif" font-weight="normal" fill="#222">Y = T</text>
<rect x="46.6" y="528" width="97.4" height="97.4" fill="none" stroke="#262626" stroke-width="1.2"/>
<line x1="46.6" y1="625.4" x2="144" y2="528" stroke="#0000ff" stroke-width="2.2"/>
<line x1="46.6" y1="625.4" x2="144" y2="528" stroke="#000" stroke-width="0.9" stroke-dasharray="1 1.6"/>
<circle cx="47.15" cy="625.8" r="4.4" fill="none" stroke="#2090ff" stroke-width="1.4"/>
<circle cx="47.28" cy="624.73" r="4.4" fill="none" stroke="#2090ff" stroke-width="1.4"/>
<circle cx="48.1" cy="624.58" r="4.4" fill="none" stroke="#2090ff" stroke-width="1.4"/>
<circle cx="47.74" cy="623.12" r="4.4" fill="none" stroke="#2090ff" stroke-width="1.4"/>
<circle cx="48.08" cy="622.34" r="4.4" fill="none" stroke="#2090ff" stroke-width="1.4"/>
<circle cx="48.83" cy="621.73" r="4.4" fill="none" stroke="#2090ff" stroke-width="1.4"/>
<circle cx="49.36" cy="620.94" r="4.4" fill="none" stroke="#2090ff" stroke-width="1.4"/>
<circle cx="50.7" cy="621.49" r="4.4" fill="none" stroke="#2090ff" stroke-width="1.4"/>
<circle cx="51.37" cy="620.69" r="4.4" fill="none" stroke="#2090ff" stroke-width="1.4"/>
<circle cx="51.87" cy="620.38" r="4.4" fill="none" stroke="#2090ff" stroke-width="1.4"/>
<circle cx="51.72" cy="618.98" r="4.4" fill="none" stroke="#2090ff" stroke-width="1.4"/>
<circle cx="52.38" cy="618.46" r="4.4" fill="none" stroke="#2090ff" stroke-width="1.4"/>
<circle cx="53.11" cy="617.8" r="4.4" fill="none" stroke="#2090ff" stroke-width="1.4"/>
<circle cx="54.78" cy="618.47" r="4.4" fill="none" stroke="#2090ff" stroke-width="1.4"/>
<circle cx="55.65" cy="618.15" r="4.4" fill="none" stroke="#2090ff" stroke-width="1.4"/>
<circle cx="56.18" cy="617.39" r="4.4" fill="none" stroke="#2090ff" stroke-width="1.4"/>
<circle cx="55.11" cy="615.4" r="4.4" fill="none" stroke="#2090ff" stroke-width="1.4"/>
<circle cx="55.78" cy="614.61" r="4.4" fill="none" stroke="#2090ff" stroke-width="1.4"/>
<circle cx="57.86" cy="615.8" r="4.4" fill="none" stroke="#2090ff" stroke-width="1.4"/>
<circle cx="57.64" cy="614.22" r="4.4" fill="none" stroke="#2090ff" stroke-width="1.4"/>
<circle cx="58.72" cy="614.26" r="4.4" fill="none" stroke="#2090ff" stroke-width="1.4"/>
<circle cx="58.48" cy="612.88" r="4.4" fill="none" stroke="#2090ff" stroke-width="1.4"/>
<circle cx="59.4" cy="612.48" r="4.4" fill="none" stroke="#2090ff" stroke-width="1.4"/>
<circle cx="60.05" cy="612" r="4.4" fill="none" stroke="#2090ff" stroke-width="1.4"/>
<circle cx="60.47" cy="611.27" r="4.4" fill="none" stroke="#2090ff" stroke-width="1.4"/>
<circle cx="61.33" cy="611.04" r="4.4" fill="none" stroke="#2090ff" stroke-width="1.4"/>
<circle cx="62.09" cy="608.12" r="4.4" fill="none" stroke="#2090ff" stroke-width="1.4"/>
<circle cx="64.85" cy="607.89" r="4.4" fill="none" stroke="#2090ff" stroke-width="1.4"/>
<circle cx="66.9" cy="606.37" r="4.4" fill="none" stroke="#2090ff" stroke-width="1.4"/>
<circle cx="67.73" cy="603.1" r="4.4" fill="none" stroke="#2090ff" stroke-width="1.4"/>
<circle cx="69.99" cy="601.84" r="4.4" fill="none" stroke="#2090ff" stroke-width="1.4"/>
<circle cx="71.95" cy="600.45" r="4.4" fill="none" stroke="#2090ff" stroke-width="1.4"/>
<circle cx="73.65" cy="598.19" r="4.4" fill="none" stroke="#2090ff" stroke-width="1.4"/>
<circle cx="75.06" cy="596.43" r="4.4" fill="none" stroke="#2090ff" stroke-width="1.4"/>
<circle cx="76.95" cy="594.48" r="4.4" fill="none" stroke="#2090ff" stroke-width="1.4"/>
<circle cx="78.57" cy="593.46" r="4.4" fill="none" stroke="#2090ff" stroke-width="1.4"/>
<circle cx="80.25" cy="590.92" r="4.4" fill="none" stroke="#2090ff" stroke-width="1.4"/>
<circle cx="82.8" cy="589.87" r="4.4" fill="none" stroke="#2090ff" stroke-width="1.4"/>
<circle cx="84.54" cy="587.97" r="4.4" fill="none" stroke="#2090ff" stroke-width="1.4"/>
<circle cx="85.8" cy="586.55" r="4.4" fill="none" stroke="#2090ff" stroke-width="1.4"/>
<circle cx="87.68" cy="584.93" r="4.4" fill="none" stroke="#2090ff" stroke-width="1.4"/>
<circle cx="89.67" cy="582.55" r="4.4" fill="none" stroke="#2090ff" stroke-width="1.4"/>
<circle cx="90.74" cy="581.1" r="4.4" fill="none" stroke="#2090ff" stroke-width="1.4"/>
<circle cx="101.62" cy="570.55" r="4.4" fill="none" stroke="#2090ff" stroke-width="1.4"/>
<circle cx="103.4" cy="568.61" r="4.4" fill="none" stroke="#2090ff" stroke-width="1.4"/>
<circle cx="105.16" cy="567.65" r="4.4" fill="none" stroke="#2090ff" stroke-width="1.4"/>
<circle cx="107.04" cy="565.47" r="4.4" fill="none" stroke="#2090ff" stroke-width="1.4"/>
<circle cx="108.91" cy="562.68" r="4.4" fill="none" stroke="#2090ff" stroke-width="1.4"/>
<circle cx="111.05" cy="561.65" r="4.4" fill="none" stroke="#2090ff" stroke-width="1.4"/>
<circle cx="112.73" cy="559.69" r="4.4" fill="none" stroke="#2090ff" stroke-width="1.4"/>
<circle cx="115.27" cy="557.2" r="4.4" fill="none" stroke="#2090ff" stroke-width="1.4"/>
<circle cx="116.93" cy="555.6" r="4.4" fill="none" stroke="#2090ff" stroke-width="1.4"/>
<circle cx="118.82" cy="553.02" r="4.4" fill="none" stroke="#2090ff" stroke-width="1.4"/>
<circle cx="120.67" cy="552" r="4.4" fill="none" stroke="#2090ff" stroke-width="1.4"/>
<circle cx="122.82" cy="549.83" r="4.4" fill="none" stroke="#2090ff" stroke-width="1.4"/>
<circle cx="124.83" cy="547.5" r="4.4" fill="none" stroke="#2090ff" stroke-width="1.4"/>
<circle cx="126.32" cy="546.13" r="4.4" fill="none" stroke="#2090ff" stroke-width="1.4"/>
<circle cx="128.41" cy="544.04" r="4.4" fill="none" stroke="#2090ff" stroke-width="1.4"/>
<circle cx="130.43" cy="541.41" r="4.4" fill="none" stroke="#2090ff" stroke-width="1.4"/>
<circle cx="132.82" cy="539.56" r="4.4" fill="none" stroke="#2090ff" stroke-width="1.4"/>
<circle cx="134.26" cy="537.01" r="4.4" fill="none" stroke="#2090ff" stroke-width="1.4"/>
<circle cx="135.77" cy="535.96" r="4.4" fill="none" stroke="#2090ff" stroke-width="1.4"/>
<circle cx="138.13" cy="533.81" r="4.4" fill="none" stroke="#2090ff" stroke-width="1.4"/>
<circle cx="94.88" cy="576.28" r="4.4" fill="none" stroke="#2090ff" stroke-width="1.4"/>
<circle cx="96.15" cy="575.6" r="4.4" fill="none" stroke="#2090ff" stroke-width="1.4"/>
<circle cx="144.12" cy="528.12" r="4.4" fill="none" stroke="#2090ff" stroke-width="1.4"/>
<line x1="46.6" y1="625.4" x2="61.21" y2="610.79" stroke="#1030f0" stroke-width="1.3" stroke-dasharray="1.5 2.5" opacity="0.7"/>
<text x="41.8" y="533.54" font-size="12.6" text-anchor="end" font-family="'Liberation Sans', sans-serif" font-weight="normal" fill="#383838">1</text>
<text x="41.8" y="580.54" font-size="12.6" text-anchor="end" font-family="'Liberation Sans', sans-serif" font-weight="normal" fill="#383838">0.9</text>
<text x="41.8" y="626.14" font-size="12.6" text-anchor="end" font-family="'Liberation Sans', sans-serif" font-weight="normal" fill="#383838">0.8</text>
<text x="52.1" y="644.04" font-size="12.6" text-anchor="middle" font-family="'Liberation Sans', sans-serif" font-weight="normal" fill="#383838">0.8</text>
<text x="99.7" y="644.04" font-size="12.6" text-anchor="middle" font-family="'Liberation Sans', sans-serif" font-weight="normal" fill="#383838">0.9</text>
<text x="145.7" y="644.04" font-size="12.6" text-anchor="middle" font-family="'Liberation Sans', sans-serif" font-weight="normal" fill="#383838">1</text>
<text x="96" y="658.5" font-size="13" text-anchor="middle" font-family="'Liberation Serif', serif" font-weight="normal" fill="#383838">Target</text>
<text x="96" y="521.86" font-size="13.5" text-anchor="middle" font-family="'Liberation Serif', serif" font-weight="bold" fill="#111">Training: R<tspan fill="#8c8c8c">=</tspan>1</text>
<text x="12.2" y="683.7" font-size="13.5" text-anchor="start" font-family="'Liberation Serif', serif" font-weight="normal" fill="#383838" transform="rotate(-90 12.2 683.7)" textLength="163" lengthAdjust="spacingAndGlyphs">Output ~<tspan fill="#d8d8d8">=</tspan> 1*Target <tspan fill="#9a9a9a">+</tspan> 6.1e-07</text>
<rect x="45.6" y="666" width="86" height="52" fill="#fff" stroke="#262626" stroke-width="1.1"/>
<circle cx="72.2" cy="675.88" r="4.1" fill="none" stroke="#2090ff" stroke-width="1.1"/>
<text x="98.6" y="680.2" font-size="12" text-anchor="start" font-family="'Liberation Sans', sans-serif" font-weight="normal" fill="#222">Data</text>
<line x1="49.6" y1="692" x2="94.6" y2="692" stroke="#0000ff" stroke-width="2.4"/>
<text x="98.6" y="696.32" font-size="12" text-anchor="start" font-family="'Liberation Sans', sans-serif" font-weight="normal" fill="#222">Fit</text>
<line x1="50.6" y1="708.12" x2="94.6" y2="708.12" stroke="#000" stroke-width="1.2" stroke-dasharray="1.2 3.6"/>
<text x="98" y="712.44" font-size="12" text-anchor="start" font-family="'Liberation Sans', sans-serif" font-weight="normal" fill="#222">Y = T</text>
<rect x="222" y="526" width="95.4" height="94.6" fill="none" stroke="#262626" stroke-width="1.2"/>
<line x1="222" y1="620.6" x2="317.4" y2="526" stroke="#a2142f" stroke-width="2.8"/>
<line x1="222" y1="620.6" x2="317.4" y2="526" stroke="#000" stroke-width="0.9" stroke-dasharray="1 1.6"/>
<circle cx="222" cy="620.6" r="4.0" fill="none" stroke="#000" stroke-width="1.1"/>
<circle cx="223.43" cy="619.18" r="4.0" fill="none" stroke="#000" stroke-width="1.1"/>
<circle cx="224.86" cy="617.76" r="4.0" fill="none" stroke="#000" stroke-width="1.1"/>
<circle cx="225.82" cy="616.82" r="4.0" fill="none" stroke="#000" stroke-width="1.1"/>
<circle cx="228.01" cy="614.64" r="4.0" fill="none" stroke="#000" stroke-width="1.1"/>
<circle cx="236.98" cy="605.75" r="4.0" fill="none" stroke="#000" stroke-width="1.1"/>
<circle cx="244.9" cy="597.9" r="4.0" fill="none" stroke="#000" stroke-width="1.1"/>
<circle cx="250.62" cy="592.22" r="4.0" fill="none" stroke="#000" stroke-width="1.1"/>
<circle cx="255.96" cy="586.92" r="4.0" fill="none" stroke="#000" stroke-width="1.1"/>
<circle cx="267.79" cy="575.19" r="4.0" fill="none" stroke="#000" stroke-width="1.1"/>
<circle cx="273.99" cy="569.04" r="4.0" fill="none" stroke="#000" stroke-width="1.1"/>
<circle cx="277.05" cy="566.02" r="4.0" fill="none" stroke="#000" stroke-width="1.1"/>
<circle cx="287.83" cy="555.33" r="4.0" fill="none" stroke="#000" stroke-width="1.1"/>
<circle cx="289.73" cy="553.43" r="4.0" fill="none" stroke="#000" stroke-width="1.1"/>
<circle cx="311.96" cy="531.39" r="4.0" fill="none" stroke="#000" stroke-width="1.1"/>
<text x="217.2" y="554.54" font-size="12.6" text-anchor="end" font-family="'Liberation Sans', sans-serif" font-weight="normal" fill="#383838">0.95</text>
<text x="217.2" y="576.94" font-size="12.6" text-anchor="end" font-family="'Liberation Sans', sans-serif" font-weight="normal" fill="#383838">0.9</text>
<text x="217.2" y="599.14" font-size="12.6" text-anchor="end" font-family="'Liberation Sans', sans-serif" font-weight="normal" fill="#383838">0.85</text>
<text x="217.2" y="621.54" font-size="12.6" text-anchor="end" font-family="'Liberation Sans', sans-serif" font-weight="normal" fill="#383838">0.8</text>
<text x="227.3" y="639.04" font-size="12.6" text-anchor="middle" font-family="'Liberation Sans', sans-serif" font-weight="normal" fill="#383838">0.8</text>
<text x="272.7" y="639.04" font-size="12.6" text-anchor="middle" font-family="'Liberation Sans', sans-serif" font-weight="normal" fill="#383838">0.9</text>
<text x="269" y="656.3" font-size="13" text-anchor="middle" font-family="'Liberation Serif', serif" font-weight="normal" fill="#383838">Target</text>
<text x="269" y="519.46" font-size="13.5" text-anchor="middle" font-family="'Liberation Serif', serif" font-weight="bold" fill="#111">Validation: R<tspan fill="#8c8c8c">=</tspan>1</text>
<text x="186.5" y="680" font-size="13.5" text-anchor="start" font-family="'Liberation Serif', serif" font-weight="normal" fill="#383838" transform="rotate(-90 186.5 680)" textLength="167.1" lengthAdjust="spacingAndGlyphs">Output ~<tspan fill="#d8d8d8">=</tspan> 1*Target <tspan fill="#9a9a9a">+</tspan> -6.7e-05</text>
<rect x="233.6" y="666" width="85.8" height="52" fill="#fff" stroke="#262626" stroke-width="1.1"/>
<circle cx="260.2" cy="675.88" r="4.1" fill="none" stroke="#000" stroke-width="1.1"/>
<text x="286.6" y="680.2" font-size="12" text-anchor="start" font-family="'Liberation Sans', sans-serif" font-weight="normal" fill="#222">Data</text>
<line x1="237.6" y1="692" x2="282.6" y2="692" stroke="#a2142f" stroke-width="2.4"/>
<text x="286.6" y="696.32" font-size="12" text-anchor="start" font-family="'Liberation Sans', sans-serif" font-weight="normal" fill="#222">Fit</text>
<line x1="238.6" y1="708.12" x2="282.6" y2="708.12" stroke="#000" stroke-width="1.2" stroke-dasharray="1.2 3.6"/>
<text x="286" y="712.44" font-size="12" text-anchor="start" font-family="'Liberation Sans', sans-serif" font-weight="normal" fill="#222">Y = T</text>
<rect x="45.6" y="743" width="100" height="99.3" fill="none" stroke="#262626" stroke-width="1.2"/>
<line x1="45.6" y1="842.3" x2="145.6" y2="743" stroke="#ff0000" stroke-width="2.8"/>
<line x1="45.6" y1="842.3" x2="145.6" y2="743" stroke="#000" stroke-width="0.9" stroke-dasharray="1 1.6"/>
<circle cx="45.6" cy="842.3" r="4.0" fill="none" stroke="#000" stroke-width="1.1"/>
<circle cx="57" cy="830.98" r="4.0" fill="none" stroke="#000" stroke-width="1.1"/>
<circle cx="58" cy="829.99" r="4.0" fill="none" stroke="#000" stroke-width="1.1"/>
<circle cx="64" cy="824.03" r="4.0" fill="none" stroke="#000" stroke-width="1.1"/>
<circle cx="67" cy="821.05" r="4.0" fill="none" stroke="#000" stroke-width="1.1"/>
<circle cx="69" cy="819.06" r="4.0" fill="none" stroke="#000" stroke-width="1.1"/>
<circle cx="85.6" cy="802.58" r="4.0" fill="none" stroke="#000" stroke-width="1.1"/>
<circle cx="95.6" cy="792.65" r="4.0" fill="none" stroke="#000" stroke-width="1.1"/>
<circle cx="97" cy="791.26" r="4.0" fill="none" stroke="#000" stroke-width="1.1"/>
<circle cx="103" cy="785.3" r="4.0" fill="none" stroke="#000" stroke-width="1.1"/>
<circle cx="106" cy="782.32" r="4.0" fill="none" stroke="#000" stroke-width="1.1"/>
<circle cx="112" cy="776.36" r="4.0" fill="none" stroke="#000" stroke-width="1.1"/>
<circle cx="130" cy="758.49" r="4.0" fill="none" stroke="#000" stroke-width="1.1"/>
<circle cx="143" cy="745.58" r="4.0" fill="none" stroke="#000" stroke-width="1.1"/>
<circle cx="144" cy="744.59" r="4.0" fill="none" stroke="#000" stroke-width="1.1"/>
<text x="40.8" y="772.54" font-size="12.6" text-anchor="end" font-family="'Liberation Sans', sans-serif" font-weight="normal" fill="#383838">0.95</text>
<text x="40.8" y="795.54" font-size="12.6" text-anchor="end" font-family="'Liberation Sans', sans-serif" font-weight="normal" fill="#383838">0.9</text>
<text x="40.8" y="819.54" font-size="12.6" text-anchor="end" font-family="'Liberation Sans', sans-serif" font-weight="normal" fill="#383838">0.85</text>
<text x="40.8" y="843.54" font-size="12.6" text-anchor="end" font-family="'Liberation Sans', sans-serif" font-weight="normal" fill="#383838">0.8</text>
<text x="51.3" y="860.64" font-size="12.6" text-anchor="middle" font-family="'Liberation Sans', sans-serif" font-weight="normal" fill="#383838">0.8</text>
<text x="100.7" y="860.64" font-size="12.6" text-anchor="middle" font-family="'Liberation Sans', sans-serif" font-weight="normal" fill="#383838">0.9</text>
<text x="96" y="875.3" font-size="13" text-anchor="middle" font-family="'Liberation Serif', serif" font-weight="normal" fill="#383838">Target</text>
<text x="96" y="737.46" font-size="13.5" text-anchor="middle" font-family="'Liberation Serif', serif" font-weight="bold" fill="#111">Test: R<tspan fill="#8c8c8c">=</tspan>1</text>
<text x="10.9" y="907" font-size="13.5" text-anchor="start" font-family="'Liberation Serif', serif" font-weight="normal" fill="#383838" transform="rotate(-90 10.9 907)" textLength="167.2" lengthAdjust="spacingAndGlyphs">Output ~<tspan fill="#d8d8d8">=</tspan> 1*Target <tspan fill="#9a9a9a">+</tspan> -8.8e-05</text>
<rect x="44.4" y="885.6" width="86.6" height="51.8" fill="#fff" stroke="#262626" stroke-width="1.1"/>
<circle cx="71" cy="895.44" r="4.1" fill="none" stroke="#000" stroke-width="1.1"/>
<text x="97.4" y="899.76" font-size="12" text-anchor="start" font-family="'Liberation Sans', sans-serif" font-weight="normal" fill="#222">Data</text>
<line x1="48.4" y1="911.5" x2="93.4" y2="911.5" stroke="#ff0000" stroke-width="2.4"/>
<text x="97.4" y="915.82" font-size="12" text-anchor="start" font-family="'Liberation Sans', sans-serif" font-weight="normal" fill="#222">Fit</text>
<line x1="49.4" y1="927.56" x2="93.4" y2="927.56" stroke="#000" stroke-width="1.2" stroke-dasharray="1.2 3.6"/>
<text x="96.8" y="931.88" font-size="12" text-anchor="start" font-family="'Liberation Sans', sans-serif" font-weight="normal" fill="#222">Y = T</text>
<rect x="222" y="744" width="96.4" height="95.6" fill="none" stroke="#262626" stroke-width="1.2"/>
<line x1="222" y1="839.6" x2="318.4" y2="744" stroke="#666666" stroke-width="2.2"/>
<line x1="222" y1="839.6" x2="318.4" y2="744" stroke="#000" stroke-width="0.9" stroke-dasharray="1 1.6"/>
<circle cx="222.25" cy="839.85" r="4.3" fill="none" stroke="#66d22c" stroke-width="1.6"/>
<circle cx="223.05" cy="839.69" r="4.3" fill="none" stroke="#66d22c" stroke-width="1.6"/>
<circle cx="222.2" cy="837.87" r="4.3" fill="none" stroke="#66d22c" stroke-width="1.6"/>
<circle cx="223.62" cy="838.34" r="4.3" fill="none" stroke="#66d22c" stroke-width="1.6"/>
<circle cx="224.39" cy="838.16" r="4.3" fill="none" stroke="#66d22c" stroke-width="1.6"/>
<circle cx="223.6" cy="836.39" r="4.3" fill="none" stroke="#66d22c" stroke-width="1.6"/>
<circle cx="225.66" cy="837.5" r="4.3" fill="none" stroke="#66d22c" stroke-width="1.6"/>
<circle cx="224.77" cy="835.65" r="4.3" fill="none" stroke="#66d22c" stroke-width="1.6"/>
<circle cx="225.81" cy="835.73" r="4.3" fill="none" stroke="#66d22c" stroke-width="1.6"/>
<circle cx="225.76" cy="834.71" r="4.3" fill="none" stroke="#66d22c" stroke-width="1.6"/>
<circle cx="226.81" cy="834.81" r="4.3" fill="none" stroke="#66d22c" stroke-width="1.6"/>
<circle cx="227.49" cy="834.54" r="4.3" fill="none" stroke="#66d22c" stroke-width="1.6"/>
<circle cx="227.02" cy="833.1" r="4.3" fill="none" stroke="#66d22c" stroke-width="1.6"/>
<circle cx="229.03" cy="834.15" r="4.3" fill="none" stroke="#66d22c" stroke-width="1.6"/>
<circle cx="228.61" cy="832.77" r="4.3" fill="none" stroke="#66d22c" stroke-width="1.6"/>
<circle cx="229.28" cy="832.48" r="4.3" fill="none" stroke="#66d22c" stroke-width="1.6"/>
<circle cx="229.88" cy="832.12" r="4.3" fill="none" stroke="#66d22c" stroke-width="1.6"/>
<circle cx="229.97" cy="831.25" r="4.3" fill="none" stroke="#66d22c" stroke-width="1.6"/>
<circle cx="230.32" cy="830.64" r="4.3" fill="none" stroke="#66d22c" stroke-width="1.6"/>
<circle cx="231.42" cy="830.78" r="4.3" fill="none" stroke="#66d22c" stroke-width="1.6"/>
<circle cx="231.74" cy="830.14" r="4.3" fill="none" stroke="#66d22c" stroke-width="1.6"/>
<circle cx="231.77" cy="829.2" r="4.3" fill="none" stroke="#66d22c" stroke-width="1.6"/>
<circle cx="232.96" cy="829.44" r="4.3" fill="none" stroke="#66d22c" stroke-width="1.6"/>
<circle cx="232.76" cy="828.27" r="4.3" fill="none" stroke="#66d22c" stroke-width="1.6"/>
<circle cx="232.79" cy="827.34" r="4.3" fill="none" stroke="#66d22c" stroke-width="1.6"/>
<circle cx="233.64" cy="827.24" r="4.3" fill="none" stroke="#66d22c" stroke-width="1.6"/>
<circle cx="233.8" cy="826.44" r="4.3" fill="none" stroke="#66d22c" stroke-width="1.6"/>
<circle cx="234.47" cy="826.15" r="4.3" fill="none" stroke="#66d22c" stroke-width="1.6"/>
<circle cx="235.9" cy="826.62" r="4.3" fill="none" stroke="#66d22c" stroke-width="1.6"/>
<circle cx="235.81" cy="825.56" r="4.3" fill="none" stroke="#66d22c" stroke-width="1.6"/>
<circle cx="237.08" cy="825.88" r="4.3" fill="none" stroke="#66d22c" stroke-width="1.6"/>
<circle cx="237.33" cy="825.17" r="4.3" fill="none" stroke="#66d22c" stroke-width="1.6"/>
<circle cx="236.73" cy="823.61" r="4.3" fill="none" stroke="#66d22c" stroke-width="1.6"/>
<circle cx="238.65" cy="824.58" r="4.3" fill="none" stroke="#66d22c" stroke-width="1.6"/>
<circle cx="239.06" cy="824.03" r="4.3" fill="none" stroke="#66d22c" stroke-width="1.6"/>
<circle cx="238.23" cy="822.22" r="4.3" fill="none" stroke="#66d22c" stroke-width="1.6"/>
<circle cx="239.96" cy="823.01" r="4.3" fill="none" stroke="#66d22c" stroke-width="1.6"/>
<circle cx="239.73" cy="821.81" r="4.3" fill="none" stroke="#66d22c" stroke-width="1.6"/>
<circle cx="240.28" cy="821.4" r="4.3" fill="none" stroke="#66d22c" stroke-width="1.6"/>
<circle cx="241.5" cy="821.66" r="4.3" fill="none" stroke="#66d22c" stroke-width="1.6"/>
<circle cx="240.9" cy="820.1" r="4.3" fill="none" stroke="#66d22c" stroke-width="1.6"/>
<circle cx="241.8" cy="820.04" r="4.3" fill="none" stroke="#66d22c" stroke-width="1.6"/>
<circle cx="242.88" cy="820.16" r="4.3" fill="none" stroke="#66d22c" stroke-width="1.6"/>
<circle cx="243.05" cy="819.37" r="4.3" fill="none" stroke="#66d22c" stroke-width="1.6"/>
<circle cx="243.16" cy="818.52" r="4.3" fill="none" stroke="#66d22c" stroke-width="1.6"/>
<circle cx="244.37" cy="818.78" r="4.3" fill="none" stroke="#66d22c" stroke-width="1.6"/>
<circle cx="244.62" cy="818.06" r="4.3" fill="none" stroke="#66d22c" stroke-width="1.6"/>
<circle cx="244.8" cy="817.28" r="4.3" fill="none" stroke="#66d22c" stroke-width="1.6"/>
<circle cx="244.6" cy="816.12" r="4.3" fill="none" stroke="#66d22c" stroke-width="1.6"/>
<circle cx="245.79" cy="816.35" r="4.3" fill="none" stroke="#66d22c" stroke-width="1.6"/>
<circle cx="246.04" cy="815.64" r="4.3" fill="none" stroke="#66d22c" stroke-width="1.6"/>
<circle cx="246.18" cy="814.81" r="4.3" fill="none" stroke="#66d22c" stroke-width="1.6"/>
<circle cx="246.46" cy="814.13" r="4.3" fill="none" stroke="#66d22c" stroke-width="1.6"/>
<circle cx="247.58" cy="814.3" r="4.3" fill="none" stroke="#66d22c" stroke-width="1.6"/>
<circle cx="247.53" cy="813.28" r="4.3" fill="none" stroke="#66d22c" stroke-width="1.6"/>
<circle cx="248.43" cy="813.23" r="4.3" fill="none" stroke="#66d22c" stroke-width="1.6"/>
<circle cx="249.21" cy="813.06" r="4.3" fill="none" stroke="#66d22c" stroke-width="1.6"/>
<circle cx="249.42" cy="812.3" r="4.3" fill="none" stroke="#66d22c" stroke-width="1.6"/>
<circle cx="249.65" cy="811.56" r="4.3" fill="none" stroke="#66d22c" stroke-width="1.6"/>
<circle cx="250.54" cy="811.51" r="4.3" fill="none" stroke="#66d22c" stroke-width="1.6"/>
<circle cx="250.82" cy="810.82" r="4.3" fill="none" stroke="#66d22c" stroke-width="1.6"/>
<circle cx="251.76" cy="810.8" r="4.3" fill="none" stroke="#66d22c" stroke-width="1.6"/>
<circle cx="251.92" cy="810" r="4.3" fill="none" stroke="#66d22c" stroke-width="1.6"/>
<circle cx="252.99" cy="810.12" r="4.3" fill="none" stroke="#66d22c" stroke-width="1.6"/>
<circle cx="253.41" cy="809.58" r="4.3" fill="none" stroke="#66d22c" stroke-width="1.6"/>
<circle cx="253.62" cy="808.82" r="4.3" fill="none" stroke="#66d22c" stroke-width="1.6"/>
<circle cx="253.49" cy="807.73" r="4.3" fill="none" stroke="#66d22c" stroke-width="1.6"/>
<circle cx="253.82" cy="807.1" r="4.3" fill="none" stroke="#66d22c" stroke-width="1.6"/>
<circle cx="255.25" cy="807.57" r="4.3" fill="none" stroke="#66d22c" stroke-width="1.6"/>
<circle cx="255.6" cy="806.96" r="4.3" fill="none" stroke="#66d22c" stroke-width="1.6"/>
<circle cx="255.89" cy="806.29" r="4.3" fill="none" stroke="#66d22c" stroke-width="1.6"/>
<circle cx="256.06" cy="805.49" r="4.3" fill="none" stroke="#66d22c" stroke-width="1.6"/>
<circle cx="256.44" cy="804.91" r="4.3" fill="none" stroke="#66d22c" stroke-width="1.6"/>
<circle cx="257.4" cy="804.92" r="4.3" fill="none" stroke="#66d22c" stroke-width="1.6"/>
<circle cx="257.74" cy="804.3" r="4.3" fill="none" stroke="#66d22c" stroke-width="1.6"/>
<circle cx="258.25" cy="803.86" r="4.3" fill="none" stroke="#66d22c" stroke-width="1.6"/>
<circle cx="258.78" cy="803.42" r="4.3" fill="none" stroke="#66d22c" stroke-width="1.6"/>
<circle cx="259.4" cy="803.08" r="4.3" fill="none" stroke="#66d22c" stroke-width="1.6"/>
<circle cx="259.25" cy="801.97" r="4.3" fill="none" stroke="#66d22c" stroke-width="1.6"/>
<circle cx="259.8" cy="801.56" r="4.3" fill="none" stroke="#66d22c" stroke-width="1.6"/>
<circle cx="261.09" cy="801.89" r="4.3" fill="none" stroke="#66d22c" stroke-width="1.6"/>
<circle cx="261.49" cy="801.34" r="4.3" fill="none" stroke="#66d22c" stroke-width="1.6"/>
<circle cx="261.93" cy="800.82" r="4.3" fill="none" stroke="#66d22c" stroke-width="1.6"/>
<circle cx="261.51" cy="799.43" r="4.3" fill="none" stroke="#66d22c" stroke-width="1.6"/>
<circle cx="262.02" cy="798.98" r="4.3" fill="none" stroke="#66d22c" stroke-width="1.6"/>
<circle cx="262.73" cy="798.73" r="4.3" fill="none" stroke="#66d22c" stroke-width="1.6"/>
<circle cx="263.37" cy="798.41" r="4.3" fill="none" stroke="#66d22c" stroke-width="1.6"/>
<circle cx="264.06" cy="798.14" r="4.3" fill="none" stroke="#66d22c" stroke-width="1.6"/>
<circle cx="264.01" cy="797.13" r="4.3" fill="none" stroke="#66d22c" stroke-width="1.6"/>
<circle cx="264.94" cy="797.1" r="4.3" fill="none" stroke="#66d22c" stroke-width="1.6"/>
<circle cx="264.95" cy="796.15" r="4.3" fill="none" stroke="#66d22c" stroke-width="1.6"/>
<circle cx="265.45" cy="795.69" r="4.3" fill="none" stroke="#66d22c" stroke-width="1.6"/>
<circle cx="266.52" cy="795.8" r="4.3" fill="none" stroke="#66d22c" stroke-width="1.6"/>
<circle cx="266.88" cy="795.2" r="4.3" fill="none" stroke="#66d22c" stroke-width="1.6"/>
<circle cx="267.44" cy="794.8" r="4.3" fill="none" stroke="#66d22c" stroke-width="1.6"/>
<circle cx="267.67" cy="794.07" r="4.3" fill="none" stroke="#66d22c" stroke-width="1.6"/>
<circle cx="268.25" cy="793.69" r="4.3" fill="none" stroke="#66d22c" stroke-width="1.6"/>
<circle cx="268.48" cy="792.96" r="4.3" fill="none" stroke="#66d22c" stroke-width="1.6"/>
<circle cx="269.09" cy="792.61" r="4.3" fill="none" stroke="#66d22c" stroke-width="1.6"/>
<circle cx="269.94" cy="792.51" r="4.3" fill="none" stroke="#66d22c" stroke-width="1.6"/>
<circle cx="270.51" cy="792.11" r="4.3" fill="none" stroke="#66d22c" stroke-width="1.6"/>
<circle cx="270.3" cy="790.93" r="4.3" fill="none" stroke="#66d22c" stroke-width="1.6"/>
<circle cx="270.82" cy="790.5" r="4.3" fill="none" stroke="#66d22c" stroke-width="1.6"/>
<circle cx="271.92" cy="790.64" r="4.3" fill="none" stroke="#66d22c" stroke-width="1.6"/>
<circle cx="272.24" cy="790" r="4.3" fill="none" stroke="#66d22c" stroke-width="1.6"/>
<circle cx="272.84" cy="789.65" r="4.3" fill="none" stroke="#66d22c" stroke-width="1.6"/>
<circle cx="272.85" cy="788.68" r="4.3" fill="none" stroke="#66d22c" stroke-width="1.6"/>
<circle cx="273.51" cy="788.39" r="4.3" fill="none" stroke="#66d22c" stroke-width="1.6"/>
<circle cx="273.85" cy="787.77" r="4.3" fill="none" stroke="#66d22c" stroke-width="1.6"/>
<circle cx="274.8" cy="787.76" r="4.3" fill="none" stroke="#66d22c" stroke-width="1.6"/>
<circle cx="274.91" cy="786.91" r="4.3" fill="none" stroke="#66d22c" stroke-width="1.6"/>
<circle cx="275.63" cy="786.67" r="4.3" fill="none" stroke="#66d22c" stroke-width="1.6"/>
<circle cx="276.38" cy="786.46" r="4.3" fill="none" stroke="#66d22c" stroke-width="1.6"/>
<circle cx="276.33" cy="785.45" r="4.3" fill="none" stroke="#66d22c" stroke-width="1.6"/>
<circle cx="276.99" cy="785.15" r="4.3" fill="none" stroke="#66d22c" stroke-width="1.6"/>
<circle cx="277.62" cy="784.82" r="4.3" fill="none" stroke="#66d22c" stroke-width="1.6"/>
<circle cx="278.24" cy="784.48" r="4.3" fill="none" stroke="#66d22c" stroke-width="1.6"/>
<circle cx="278.34" cy="783.62" r="4.3" fill="none" stroke="#66d22c" stroke-width="1.6"/>
<circle cx="278.78" cy="783.1" r="4.3" fill="none" stroke="#66d22c" stroke-width="1.6"/>
<circle cx="279.06" cy="782.42" r="4.3" fill="none" stroke="#66d22c" stroke-width="1.6"/>
<circle cx="280.11" cy="782.52" r="4.3" fill="none" stroke="#66d22c" stroke-width="1.6"/>
<circle cx="280.02" cy="781.45" r="4.3" fill="none" stroke="#66d22c" stroke-width="1.6"/>
<circle cx="280.51" cy="780.98" r="4.3" fill="none" stroke="#66d22c" stroke-width="1.6"/>
<circle cx="281.33" cy="780.85" r="4.3" fill="none" stroke="#66d22c" stroke-width="1.6"/>
<circle cx="281.76" cy="780.32" r="4.3" fill="none" stroke="#66d22c" stroke-width="1.6"/>
<circle cx="282.38" cy="779.98" r="4.3" fill="none" stroke="#66d22c" stroke-width="1.6"/>
<circle cx="282.6" cy="779.23" r="4.3" fill="none" stroke="#66d22c" stroke-width="1.6"/>
<circle cx="283.4" cy="779.08" r="4.3" fill="none" stroke="#66d22c" stroke-width="1.6"/>
<circle cx="283.42" cy="778.13" r="4.3" fill="none" stroke="#66d22c" stroke-width="1.6"/>
<circle cx="283.99" cy="777.75" r="4.3" fill="none" stroke="#66d22c" stroke-width="1.6"/>
<circle cx="284.76" cy="777.56" r="4.3" fill="none" stroke="#66d22c" stroke-width="1.6"/>
<circle cx="284.88" cy="776.72" r="4.3" fill="none" stroke="#66d22c" stroke-width="1.6"/>
<circle cx="285.5" cy="776.38" r="4.3" fill="none" stroke="#66d22c" stroke-width="1.6"/>
<circle cx="286.24" cy="776.17" r="4.3" fill="none" stroke="#66d22c" stroke-width="1.6"/>
<circle cx="286.71" cy="775.67" r="4.3" fill="none" stroke="#66d22c" stroke-width="1.6"/>
<circle cx="286.94" cy="774.94" r="4.3" fill="none" stroke="#66d22c" stroke-width="1.6"/>
<circle cx="287.34" cy="774.38" r="4.3" fill="none" stroke="#66d22c" stroke-width="1.6"/>
<circle cx="287.95" cy="774.03" r="4.3" fill="none" stroke="#66d22c" stroke-width="1.6"/>
<circle cx="288.64" cy="773.77" r="4.3" fill="none" stroke="#66d22c" stroke-width="1.6"/>
<circle cx="288.92" cy="773.08" r="4.3" fill="none" stroke="#66d22c" stroke-width="1.6"/>
<circle cx="289.27" cy="772.47" r="4.3" fill="none" stroke="#66d22c" stroke-width="1.6"/>
<circle cx="290.08" cy="772.32" r="4.3" fill="none" stroke="#66d22c" stroke-width="1.6"/>
<circle cx="290.48" cy="771.76" r="4.3" fill="none" stroke="#66d22c" stroke-width="1.6"/>
<circle cx="291.14" cy="771.47" r="4.3" fill="none" stroke="#66d22c" stroke-width="1.6"/>
<circle cx="291.63" cy="771" r="4.3" fill="none" stroke="#66d22c" stroke-width="1.6"/>
<circle cx="292.1" cy="770.5" r="4.3" fill="none" stroke="#66d22c" stroke-width="1.6"/>
<circle cx="292.34" cy="769.78" r="4.3" fill="none" stroke="#66d22c" stroke-width="1.6"/>
<circle cx="293" cy="769.48" r="4.3" fill="none" stroke="#66d22c" stroke-width="1.6"/>
<circle cx="293.24" cy="768.76" r="4.3" fill="none" stroke="#66d22c" stroke-width="1.6"/>
<circle cx="293.73" cy="768.29" r="4.3" fill="none" stroke="#66d22c" stroke-width="1.6"/>
<circle cx="294.25" cy="767.85" r="4.3" fill="none" stroke="#66d22c" stroke-width="1.6"/>
<circle cx="294.98" cy="767.62" r="4.3" fill="none" stroke="#66d22c" stroke-width="1.6"/>
<circle cx="295.44" cy="767.12" r="4.3" fill="none" stroke="#66d22c" stroke-width="1.6"/>
<circle cx="295.64" cy="766.36" r="4.3" fill="none" stroke="#66d22c" stroke-width="1.6"/>
<circle cx="296.17" cy="765.93" r="4.3" fill="none" stroke="#66d22c" stroke-width="1.6"/>
<circle cx="296.65" cy="765.45" r="4.3" fill="none" stroke="#66d22c" stroke-width="1.6"/>
<circle cx="297.14" cy="764.98" r="4.3" fill="none" stroke="#66d22c" stroke-width="1.6"/>
<circle cx="297.63" cy="764.51" r="4.3" fill="none" stroke="#66d22c" stroke-width="1.6"/>
<circle cx="298.11" cy="764.03" r="4.3" fill="none" stroke="#66d22c" stroke-width="1.6"/>
<circle cx="298.52" cy="763.48" r="4.3" fill="none" stroke="#66d22c" stroke-width="1.6"/>
<circle cx="299.14" cy="763.14" r="4.3" fill="none" stroke="#66d22c" stroke-width="1.6"/>
<circle cx="299.71" cy="762.75" r="4.3" fill="none" stroke="#66d22c" stroke-width="1.6"/>
<circle cx="300.1" cy="762.18" r="4.3" fill="none" stroke="#66d22c" stroke-width="1.6"/>
<circle cx="300.68" cy="761.8" r="4.3" fill="none" stroke="#66d22c" stroke-width="1.6"/>
<circle cx="301.07" cy="761.23" r="4.3" fill="none" stroke="#66d22c" stroke-width="1.6"/>
<circle cx="301.43" cy="760.63" r="4.3" fill="none" stroke="#66d22c" stroke-width="1.6"/>
<circle cx="302.09" cy="760.33" r="4.3" fill="none" stroke="#66d22c" stroke-width="1.6"/>
<circle cx="302.61" cy="759.89" r="4.3" fill="none" stroke="#66d22c" stroke-width="1.6"/>
<circle cx="302.91" cy="759.23" r="4.3" fill="none" stroke="#66d22c" stroke-width="1.6"/>
<circle cx="303.32" cy="758.68" r="4.3" fill="none" stroke="#66d22c" stroke-width="1.6"/>
<circle cx="303.94" cy="758.34" r="4.3" fill="none" stroke="#66d22c" stroke-width="1.6"/>
<circle cx="304.43" cy="757.87" r="4.3" fill="none" stroke="#66d22c" stroke-width="1.6"/>
<circle cx="304.92" cy="757.4" r="4.3" fill="none" stroke="#66d22c" stroke-width="1.6"/>
<circle cx="305.5" cy="757.02" r="4.3" fill="none" stroke="#66d22c" stroke-width="1.6"/>
<circle cx="305.9" cy="756.46" r="4.3" fill="none" stroke="#66d22c" stroke-width="1.6"/>
<circle cx="306.42" cy="756.02" r="4.3" fill="none" stroke="#66d22c" stroke-width="1.6"/>
<circle cx="306.74" cy="755.38" r="4.3" fill="none" stroke="#66d22c" stroke-width="1.6"/>
<circle cx="307.32" cy="755" r="4.3" fill="none" stroke="#66d22c" stroke-width="1.6"/>
<circle cx="307.85" cy="754.57" r="4.3" fill="none" stroke="#66d22c" stroke-width="1.6"/>
<circle cx="308.2" cy="753.96" r="4.3" fill="none" stroke="#66d22c" stroke-width="1.6"/>
<circle cx="308.68" cy="753.48" r="4.3" fill="none" stroke="#66d22c" stroke-width="1.6"/>
<circle cx="309.28" cy="753.12" r="4.3" fill="none" stroke="#66d22c" stroke-width="1.6"/>
<circle cx="309.79" cy="752.67" r="4.3" fill="none" stroke="#66d22c" stroke-width="1.6"/>
<circle cx="310.14" cy="752.06" r="4.3" fill="none" stroke="#66d22c" stroke-width="1.6"/>
<circle cx="310.71" cy="751.67" r="4.3" fill="none" stroke="#66d22c" stroke-width="1.6"/>
<circle cx="311.12" cy="751.12" r="4.3" fill="none" stroke="#66d22c" stroke-width="1.6"/>
<circle cx="311.68" cy="750.72" r="4.3" fill="none" stroke="#66d22c" stroke-width="1.6"/>
<circle cx="312.15" cy="750.23" r="4.3" fill="none" stroke="#66d22c" stroke-width="1.6"/>
<circle cx="312.59" cy="749.71" r="4.3" fill="none" stroke="#66d22c" stroke-width="1.6"/>
<circle cx="313.07" cy="749.23" r="4.3" fill="none" stroke="#66d22c" stroke-width="1.6"/>
<circle cx="313.6" cy="748.8" r="4.3" fill="none" stroke="#66d22c" stroke-width="1.6"/>
<circle cx="314.06" cy="748.3" r="4.3" fill="none" stroke="#66d22c" stroke-width="1.6"/>
<circle cx="314.56" cy="747.84" r="4.3" fill="none" stroke="#66d22c" stroke-width="1.6"/>
<circle cx="315.02" cy="747.34" r="4.3" fill="none" stroke="#66d22c" stroke-width="1.6"/>
<circle cx="315.99" cy="746.39" r="4.3" fill="none" stroke="#66d22c" stroke-width="1.6"/>
<circle cx="317.44" cy="744.96" r="4.3" fill="none" stroke="#66d22c" stroke-width="1.6"/>
<circle cx="318.4" cy="744" r="4.3" fill="none" stroke="#66d22c" stroke-width="1.6"/>
<line x1="222" y1="839.6" x2="311.65" y2="750.69" stroke="#4d6d35" stroke-width="1.3" stroke-dasharray="1.5 2.5" opacity="0.7"/>
<text x="217.2" y="749.54" font-size="12.6" text-anchor="end" font-family="'Liberation Sans', sans-serif" font-weight="normal" fill="#383838">1</text>
<text x="217.2" y="796.54" font-size="12.6" text-anchor="end" font-family="'Liberation Sans', sans-serif" font-weight="normal" fill="#383838">0.9</text>
<text x="217.2" y="841.54" font-size="12.6" text-anchor="end" font-family="'Liberation Sans', sans-serif" font-weight="normal" fill="#383838">0.8</text>
<text x="227.3" y="858.64" font-size="12.6" text-anchor="middle" font-family="'Liberation Sans', sans-serif" font-weight="normal" fill="#383838">0.8</text>
<text x="272.7" y="858.64" font-size="12.6" text-anchor="middle" font-family="'Liberation Sans', sans-serif" font-weight="normal" fill="#383838">0.9</text>
<text x="319.1" y="858.64" font-size="12.6" text-anchor="middle" font-family="'Liberation Sans', sans-serif" font-weight="normal" fill="#383838">1</text>
<text x="269" y="873.5" font-size="13" text-anchor="middle" font-family="'Liberation Serif', serif" font-weight="normal" fill="#383838">Target</text>
<text x="269" y="737.86" font-size="13.5" text-anchor="middle" font-family="'Liberation Serif', serif" font-weight="bold" fill="#111">All: R<tspan fill="#8c8c8c">=</tspan>1</text>
<text x="187.6" y="904.5" font-size="13.5" text-anchor="start" font-family="'Liberation Serif', serif" font-weight="normal" fill="#383838" transform="rotate(-90 187.6 904.5)" textLength="167.5" lengthAdjust="spacingAndGlyphs">Output ~<tspan fill="#d8d8d8">=</tspan> 1*Target <tspan fill="#9a9a9a">+</tspan> -2.1e-05</text>
<rect x="233.4" y="882" width="86" height="52" fill="#fff" stroke="#262626" stroke-width="1.1"/>
<circle cx="260" cy="891.88" r="4.1" fill="none" stroke="#66d22c" stroke-width="1.1"/>
<text x="286.4" y="896.2" font-size="12" text-anchor="start" font-family="'Liberation Sans', sans-serif" font-weight="normal" fill="#222">Data</text>
<line x1="237.4" y1="908" x2="282.4" y2="908" stroke="#666666" stroke-width="2.4"/>
<text x="286.4" y="912.32" font-size="12" text-anchor="start" font-family="'Liberation Sans', sans-serif" font-weight="normal" fill="#222">Fit</text>
<line x1="238.4" y1="924.12" x2="282.4" y2="924.12" stroke="#000" stroke-width="1.2" stroke-dasharray="1.2 3.6"/>
<text x="285.8" y="928.44" font-size="12" text-anchor="start" font-family="'Liberation Sans', sans-serif" font-weight="normal" fill="#222">Y = T</text>
<polyline fill="none" stroke="#000" stroke-width="0.8" points="403.4,186.6 406.19,186.32 408.98,186.04 411.76,185.76 414.55,185.48 417.34,185.21 420.13,184.93 422.91,184.65 425.7,184.2 428.49,183.73 431.28,183.25 434.07,182.77 436.85,182.29 439.64,181.81 442.43,181.33 445.22,180.85 448,180.28 450.79,179.58 453.58,178.89 456.37,178.19 459.16,177.5 461.94,176.81 464.73,176.11 467.52,175.42 470.31,174.69 473.09,173.72 475.88,172.75 478.67,171.77 481.46,170.8 484.24,169.83 487.03,168.86 489.82,167.88 492.61,166.91 495.4,165.74 498.18,164.47 500.97,163.2 503.76,161.93 506.55,160.66 509.33,159.4 512.12,158.13 514.91,156.86 517.7,155.46 520.49,153.79 523.27,152.13 526.06,150.46 528.85,148.79 531.64,147.12 534.42,145.46 537.21,143.79 540,142.12 542.79,140.1 545.58,138.06 548.36,136.01 551.15,133.97 553.94,131.92 556.73,129.88 559.51,127.84 562.3,125.76 565.09,123.65 567.88,121.54 570.67,119.42 573.45,117.31 576.24,115.19 579.03,113.08 581.82,110.97 584.6,108.87 587.39,106.78 590.18,104.69 592.97,102.6 595.76,100.51 598.54,98.42 601.33,96.33 604.12,94.11 606.91,91.47 609.69,88.83 612.48,86.18 615.27,83.54 618.06,80.9 620.84,78.26 623.63,75.61 626.42,72.87 629.21,70.07 632,67.27 634.78,64.47 637.57,61.67 640.36,58.87 643.15,56.07 645.93,53.25 648.72,50.19 651.51,47.12 654.3,44.06 657.09,41 659.87,37.93 662.66,34.87 665.45,31.8 668.24,28.46 671.02,24.78 673.81,21.09 676.6,17.4"/>
<path d="M401.69 186.32h9M406.19 181.52v9.6" stroke="#0000ff" stroke-width="1.45" fill="none"/>
<path d="M404.48 186.04h9M408.98 181.24v9.6" stroke="#0000ff" stroke-width="1.45" fill="none"/>
<path d="M407.26 185.76h9M411.76 180.96v9.6" stroke="#0000ff" stroke-width="1.45" fill="none"/>
<path d="M410.05 185.48h9M414.55 180.68v9.6" stroke="#0000ff" stroke-width="1.45" fill="none"/>
<path d="M412.84 185.21h9M417.34 180.41v9.6" stroke="#0000ff" stroke-width="1.45" fill="none"/>
<path d="M415.63 184.93h9M420.13 180.13v9.6" stroke="#0000ff" stroke-width="1.45" fill="none"/>
<path d="M418.41 184.65h9M422.91 179.85v9.6" stroke="#0000ff" stroke-width="1.45" fill="none"/>
<path d="M421.2 184.2h9M425.7 179.4v9.6" stroke="#0000ff" stroke-width="1.45" fill="none"/>
<path d="M423.99 183.73h9M428.49 178.93v9.6" stroke="#0000ff" stroke-width="1.45" fill="none"/>
<path d="M432.35 182.29h9M436.85 177.49v9.6" stroke="#0000ff" stroke-width="1.45" fill="none"/>
<path d="M435.14 181.81h9M439.64 177.01v9.6" stroke="#0000ff" stroke-width="1.45" fill="none"/>
<path d="M437.93 181.33h9M442.43 176.53v9.6" stroke="#0000ff" stroke-width="1.45" fill="none"/>
<path d="M440.72 180.85h9M445.22 176.05v9.6" stroke="#0000ff" stroke-width="1.45" fill="none"/>
<path d="M443.5 180.28h9M448 175.48v9.6" stroke="#0000ff" stroke-width="1.45" fill="none"/>
<path d="M446.29 179.58h9M450.79 174.78v9.6" stroke="#0000ff" stroke-width="1.45" fill="none"/>
<path d="M451.87 178.19h9M456.37 173.39v9.6" stroke="#0000ff" stroke-width="1.45" fill="none"/>
<path d="M454.66 177.5h9M459.16 172.7v9.6" stroke="#0000ff" stroke-width="1.45" fill="none"/>
<path d="M460.23 176.11h9M464.73 171.31v9.6" stroke="#0000ff" stroke-width="1.45" fill="none"/>
<path d="M463.02 175.42h9M467.52 170.62v9.6" stroke="#0000ff" stroke-width="1.45" fill="none"/>
<path d="M468.59 173.72h9M473.09 168.92v9.6" stroke="#0000ff" stroke-width="1.45" fill="none"/>
<path d="M471.38 172.75h9M475.88 167.95v9.6" stroke="#0000ff" stroke-width="1.45" fill="none"/>
<path d="M476.96 170.8h9M481.46 166v9.6" stroke="#0000ff" stroke-width="1.45" fill="none"/>
<path d="M482.53 168.86h9M487.03 164.06v9.6" stroke="#0000ff" stroke-width="1.45" fill="none"/>
<path d="M485.32 167.88h9M489.82 163.08v9.6" stroke="#0000ff" stroke-width="1.45" fill="none"/>
<path d="M490.9 165.74h9M495.4 160.94v9.6" stroke="#0000ff" stroke-width="1.45" fill="none"/>
<path d="M496.47 163.2h9M500.97 158.4v9.6" stroke="#0000ff" stroke-width="1.45" fill="none"/>
<path d="M499.26 161.93h9M503.76 157.13v9.6" stroke="#0000ff" stroke-width="1.45" fill="none"/>
<path d="M502.05 160.66h9M506.55 155.86v9.6" stroke="#0000ff" stroke-width="1.45" fill="none"/>
<path d="M504.83 159.4h9M509.33 154.6v9.6" stroke="#0000ff" stroke-width="1.45" fill="none"/>
<path d="M507.62 158.13h9M512.12 153.33v9.6" stroke="#0000ff" stroke-width="1.45" fill="none"/>
<path d="M510.41 156.86h9M514.91 152.06v9.6" stroke="#0000ff" stroke-width="1.45" fill="none"/>
<path d="M515.99 153.79h9M520.49 148.99v9.6" stroke="#0000ff" stroke-width="1.45" fill="none"/>
<path d="M518.77 152.13h9M523.27 147.33v9.6" stroke="#0000ff" stroke-width="1.45" fill="none"/>
<path d="M521.56 150.46h9M526.06 145.66v9.6" stroke="#0000ff" stroke-width="1.45" fill="none"/>
<path d="M524.35 148.79h9M528.85 143.99v9.6" stroke="#0000ff" stroke-width="1.45" fill="none"/>
<path d="M527.14 147.12h9M531.64 142.32v9.6" stroke="#0000ff" stroke-width="1.45" fill="none"/>
<path d="M532.71 143.79h9M537.21 138.99v9.6" stroke="#0000ff" stroke-width="1.45" fill="none"/>
<path d="M535.5 142.12h9M540 137.32v9.6" stroke="#0000ff" stroke-width="1.45" fill="none"/>
<path d="M538.29 140.1h9M542.79 135.3v9.6" stroke="#0000ff" stroke-width="1.45" fill="none"/>
<path d="M541.08 138.06h9M545.58 133.26v9.6" stroke="#0000ff" stroke-width="1.45" fill="none"/>
<path d="M543.86 136.01h9M548.36 131.21v9.6" stroke="#0000ff" stroke-width="1.45" fill="none"/>
<path d="M546.65 133.97h9M551.15 129.17v9.6" stroke="#0000ff" stroke-width="1.45" fill="none"/>
<path d="M549.44 131.92h9M553.94 127.12v9.6" stroke="#0000ff" stroke-width="1.45" fill="none"/>
<path d="M555.01 127.84h9M559.51 123.04v9.6" stroke="#0000ff" stroke-width="1.45" fill="none"/>
<path d="M560.59 123.65h9M565.09 118.85v9.6" stroke="#0000ff" stroke-width="1.45" fill="none"/>
<path d="M563.38 121.54h9M567.88 116.74v9.6" stroke="#0000ff" stroke-width="1.45" fill="none"/>
<path d="M566.17 119.42h9M570.67 114.62v9.6" stroke="#0000ff" stroke-width="1.45" fill="none"/>
<path d="M568.95 117.31h9M573.45 112.51v9.6" stroke="#0000ff" stroke-width="1.45" fill="none"/>
<path d="M571.74 115.19h9M576.24 110.39v9.6" stroke="#0000ff" stroke-width="1.45" fill="none"/>
<path d="M574.53 113.08h9M579.03 108.28v9.6" stroke="#0000ff" stroke-width="1.45" fill="none"/>
<path d="M577.32 110.97h9M581.82 106.17v9.6" stroke="#0000ff" stroke-width="1.45" fill="none"/>
<path d="M582.89 106.78h9M587.39 101.98v9.6" stroke="#0000ff" stroke-width="1.45" fill="none"/>
<path d="M585.68 104.69h9M590.18 99.89v9.6" stroke="#0000ff" stroke-width="1.45" fill="none"/>
<path d="M588.47 102.6h9M592.97 97.8v9.6" stroke="#0000ff" stroke-width="1.45" fill="none"/>
<path d="M594.04 98.42h9M598.54 93.62v9.6" stroke="#0000ff" stroke-width="1.45" fill="none"/>
<path d="M596.83 96.33h9M601.33 91.53v9.6" stroke="#0000ff" stroke-width="1.45" fill="none"/>
<path d="M599.62 94.11h9M604.12 89.31v9.6" stroke="#0000ff" stroke-width="1.45" fill="none"/>
<path d="M602.41 91.47h9M606.91 86.67v9.6" stroke="#0000ff" stroke-width="1.45" fill="none"/>
<path d="M607.98 86.18h9M612.48 81.38v9.6" stroke="#0000ff" stroke-width="1.45" fill="none"/>
<path d="M610.77 83.54h9M615.27 78.74v9.6" stroke="#0000ff" stroke-width="1.45" fill="none"/>
<path d="M613.56 80.9h9M618.06 76.1v9.6" stroke="#0000ff" stroke-width="1.45" fill="none"/>
<path d="M619.13 75.61h9M623.63 70.81v9.6" stroke="#0000ff" stroke-width="1.45" fill="none"/>
<path d="M624.71 70.07h9M629.21 65.27v9.6" stroke="#0000ff" stroke-width="1.45" fill="none"/>
<path d="M627.5 67.27h9M632 62.47v9.6" stroke="#0000ff" stroke-width="1.45" fill="none"/>
<path d="M630.28 64.47h9M634.78 59.67v9.6" stroke="#0000ff" stroke-width="1.45" fill="none"/>
<path d="M635.86 58.87h9M640.36 54.07v9.6" stroke="#0000ff" stroke-width="1.45" fill="none"/>
<path d="M638.65 56.07h9M643.15 51.27v9.6" stroke="#0000ff" stroke-width="1.45" fill="none"/>
<path d="M641.43 53.25h9M645.93 48.45v9.6" stroke="#0000ff" stroke-width="1.45" fill="none"/>
<path d="M644.22 50.19h9M648.72 45.39v9.6" stroke="#0000ff" stroke-width="1.45" fill="none"/>
<path d="M647.01 47.12h9M651.51 42.32v9.6" stroke="#0000ff" stroke-width="1.45" fill="none"/>
<path d="M649.8 44.06h9M654.3 39.26v9.6" stroke="#0000ff" stroke-width="1.45" fill="none"/>
<path d="M658.16 34.87h9M662.66 30.07v9.6" stroke="#0000ff" stroke-width="1.45" fill="none"/>
<path d="M660.95 31.8h9M665.45 27v9.6" stroke="#0000ff" stroke-width="1.45" fill="none"/>
<path d="M666.52 24.78h9M671.02 19.98v9.6" stroke="#0000ff" stroke-width="1.45" fill="none"/>
<path d="M672.1 17.4h9M676.6 12.6v9.6" stroke="#0000ff" stroke-width="1.45" fill="none"/>
<path d="M398.9 186.6h9M403.4 181.8v9.6" stroke="#00c000" stroke-width="1.45" fill="none"/>
<path d="M426.78 183.25h9M431.28 178.45v9.6" stroke="#ff0000" stroke-width="1.45" fill="none"/>
<path d="M429.57 182.77h9M434.07 177.97v9.6" stroke="#00c000" stroke-width="1.45" fill="none"/>
<path d="M449.08 178.89h9M453.58 174.09v9.6" stroke="#ff0000" stroke-width="1.45" fill="none"/>
<path d="M457.44 176.81h9M461.94 172.01v9.6" stroke="#00c000" stroke-width="1.45" fill="none"/>
<path d="M465.81 174.69h9M470.31 169.89v9.6" stroke="#ff0000" stroke-width="1.45" fill="none"/>
<path d="M474.17 171.77h9M478.67 166.97v9.6" stroke="#00c000" stroke-width="1.45" fill="none"/>
<path d="M479.74 169.83h9M484.24 165.03v9.6" stroke="#ff0000" stroke-width="1.45" fill="none"/>
<path d="M488.11 166.91h9M492.61 162.11v9.6" stroke="#ff0000" stroke-width="1.45" fill="none"/>
<path d="M493.68 164.47h9M498.18 159.67v9.6" stroke="#ff0000" stroke-width="1.45" fill="none"/>
<path d="M513.2 155.46h9M517.7 150.66v9.6" stroke="#00c000" stroke-width="1.45" fill="none"/>
<path d="M529.92 145.46h9M534.42 140.66v9.6" stroke="#ff0000" stroke-width="1.45" fill="none"/>
<path d="M552.23 129.88h9M556.73 125.08v9.6" stroke="#00c000" stroke-width="1.45" fill="none"/>
<path d="M557.8 125.76h9M562.3 120.96v9.6" stroke="#ff0000" stroke-width="1.45" fill="none"/>
<path d="M580.1 108.87h9M584.6 104.07v9.6" stroke="#00c000" stroke-width="1.45" fill="none"/>
<path d="M591.26 100.51h9M595.76 95.71v9.6" stroke="#00c000" stroke-width="1.45" fill="none"/>
<path d="M605.19 88.83h9M609.69 84.03v9.6" stroke="#ff0000" stroke-width="1.45" fill="none"/>
<path d="M616.34 78.26h9M620.84 73.46v9.6" stroke="#ff0000" stroke-width="1.45" fill="none"/>
<path d="M621.92 72.87h9M626.42 68.07v9.6" stroke="#00c000" stroke-width="1.45" fill="none"/>
<path d="M633.07 61.67h9M637.57 56.87v9.6" stroke="#00c000" stroke-width="1.45" fill="none"/>
<path d="M652.59 41h9M657.09 36.2v9.6" stroke="#ff0000" stroke-width="1.45" fill="none"/>
<path d="M655.37 37.93h9M659.87 33.13v9.6" stroke="#ff0000" stroke-width="1.45" fill="none"/>
<path d="M663.74 28.46h9M668.24 23.66v9.6" stroke="#00c000" stroke-width="1.45" fill="none"/>
<path d="M669.31 21.09h9M673.81 16.29v9.6" stroke="#ff0000" stroke-width="1.45" fill="none"/>
<path d="M403.4 17.4V221H676.6V17.4" fill="none" stroke="#262626" stroke-width="1.3"/>
<line x1="403.4" y1="17.4" x2="676.6" y2="17.4" stroke="#262626" stroke-width="1.3"/>
<line x1="403.4" y1="17.4" x2="407.4" y2="17.4" stroke="#262626" stroke-width="1"/>
<line x1="672.6" y1="17.4" x2="676.6" y2="17.4" stroke="#262626" stroke-width="1"/>
<text x="398.2" y="23.22" font-size="14.5" text-anchor="end" font-family="'Liberation Sans', sans-serif" font-weight="normal" fill="#383838">1</text>
<line x1="403.4" y1="68.3" x2="407.4" y2="68.3" stroke="#262626" stroke-width="1"/>
<line x1="672.6" y1="68.3" x2="676.6" y2="68.3" stroke="#262626" stroke-width="1"/>
<text x="398.2" y="74.12" font-size="14.5" text-anchor="end" font-family="'Liberation Sans', sans-serif" font-weight="normal" fill="#383838">0.95</text>
<line x1="403.4" y1="119.6" x2="407.4" y2="119.6" stroke="#262626" stroke-width="1"/>
<line x1="672.6" y1="119.6" x2="676.6" y2="119.6" stroke="#262626" stroke-width="1"/>
<text x="398.2" y="125.42" font-size="14.5" text-anchor="end" font-family="'Liberation Sans', sans-serif" font-weight="normal" fill="#383838">0.9</text>
<line x1="403.4" y1="170.3" x2="407.4" y2="170.3" stroke="#262626" stroke-width="1"/>
<line x1="672.6" y1="170.3" x2="676.6" y2="170.3" stroke="#262626" stroke-width="1"/>
<text x="398.2" y="176.12" font-size="14.5" text-anchor="end" font-family="'Liberation Sans', sans-serif" font-weight="normal" fill="#383838">0.85</text>
<line x1="403.4" y1="221" x2="407.4" y2="221" stroke="#262626" stroke-width="1"/>
<line x1="672.6" y1="221" x2="676.6" y2="221" stroke="#262626" stroke-width="1"/>
<text x="398.2" y="226.82" font-size="14.5" text-anchor="end" font-family="'Liberation Sans', sans-serif" font-weight="normal" fill="#383838">0.8</text>
<line x1="455.8" y1="17.4" x2="455.8" y2="20.4" stroke="#262626" stroke-width="1"/>
<line x1="455.8" y1="218" x2="455.8" y2="221" stroke="#262626" stroke-width="1"/>
<line x1="511.6" y1="17.4" x2="511.6" y2="20.4" stroke="#262626" stroke-width="1"/>
<line x1="511.6" y1="218" x2="511.6" y2="221" stroke="#262626" stroke-width="1"/>
<line x1="567.6" y1="17.4" x2="567.6" y2="20.4" stroke="#262626" stroke-width="1"/>
<line x1="567.6" y1="218" x2="567.6" y2="221" stroke="#262626" stroke-width="1"/>
<line x1="623.4" y1="17.4" x2="623.4" y2="20.4" stroke="#262626" stroke-width="1"/>
<line x1="623.4" y1="218" x2="623.4" y2="221" stroke="#262626" stroke-width="1"/>
<text x="539.8" y="11.46" font-size="13.5" text-anchor="middle" font-family="'Liberation Serif', serif" font-weight="bold" fill="#111" textLength="277.5" lengthAdjust="spacingAndGlyphs">Response of Output Element 1 for Time-Series 1</text>
<text x="367.06" y="119.5" font-size="14.2" text-anchor="middle" font-family="'Liberation Serif', serif" font-weight="normal" fill="#383838" transform="rotate(-90 367.06 119.5)" textLength="99" lengthAdjust="spacingAndGlyphs">Output and Target</text>
<rect x="514.8" y="221.5" width="161.8" height="193.3" fill="#fff" stroke="#262626" stroke-width="1.2"/>
<rect x="540.8" y="236.1" width="2" height="2" fill="#0000ff"/>
<text x="568" y="241.67" font-size="12.7" text-anchor="start" font-family="'Liberation Sans', sans-serif" font-weight="normal" fill="#222">Training Targets</text>
<path d="M537.3 260.7h9M541.8 256.2v9" stroke="#0000ff" stroke-width="1.1" fill="none"/>
<text x="568" y="265.27" font-size="12.7" text-anchor="start" font-family="'Liberation Sans', sans-serif" font-weight="normal" fill="#222">Training Outputs</text>
<rect x="540.8" y="283.3" width="2" height="2" fill="#00c000"/>
<text x="568" y="288.87" font-size="12.7" text-anchor="start" font-family="'Liberation Sans', sans-serif" font-weight="normal" fill="#222">Validation Targets</text>
<path d="M537.3 307.9h9M541.8 303.4v9" stroke="#00c000" stroke-width="1.1" fill="none"/>
<text x="568" y="312.47" font-size="12.7" text-anchor="start" font-family="'Liberation Sans', sans-serif" font-weight="normal" fill="#222">Validation Outputs</text>
<rect x="540.8" y="330.5" width="2" height="2" fill="#ff0000"/>
<text x="568" y="336.07" font-size="12.7" text-anchor="start" font-family="'Liberation Sans', sans-serif" font-weight="normal" fill="#222">Test Targets</text>
<path d="M537.3 355.1h9M541.8 350.6v9" stroke="#ff0000" stroke-width="1.1" fill="none"/>
<text x="568" y="359.67" font-size="12.7" text-anchor="start" font-family="'Liberation Sans', sans-serif" font-weight="normal" fill="#222">Test Outputs</text>
<line x1="519.8" y1="378.7" x2="564.3" y2="378.7" stroke="#ff9a00" stroke-width="2.6"/>
<text x="568" y="383.27" font-size="12.7" text-anchor="start" font-family="'Liberation Sans', sans-serif" font-weight="normal" fill="#222">Errors</text>
<line x1="519.8" y1="402.3" x2="564.3" y2="402.3" stroke="#222" stroke-width="1"/>
<text x="568" y="406.87" font-size="12.7" text-anchor="start" font-family="'Liberation Sans', sans-serif" font-weight="normal" fill="#222">Response</text>
<rect x="396.3" y="414.8" width="280.3" height="21.4" fill="#fff" stroke="#262626" stroke-width="1.2"/>
<rect x="486.5" y="424.5" width="2" height="2" fill="#0000ff"/>
<text x="515" y="430.07" font-size="12.7" text-anchor="start" font-family="'Liberation Sans', sans-serif" font-weight="normal" fill="#222">Targets - Outputs</text>
<polygon points="400.19,293.5 400.19,292.54 401.94,290.79 405.88,296.04 408.51,292.54 410.26,287.29 412.45,284.22 414.64,286.41 415.95,289.91 417.26,294.29 419.45,297.79 421.64,296.04 423.39,292.54 425.15,292.1 427.77,293.42 430.4,293.42 433.03,290.79 436.09,288.6 439.16,290.79 441.35,294.29 444.41,296.48 447.47,296.92 449.66,294.29 453.17,288.6 455.79,290.79 459.62,297.78 466.56,287.77 470.41,290.85 473.49,297.78 476.57,300.86 479.65,292.39 481.19,281.6 483.51,276.98 485.82,289.31 487.36,303.17 488.13,320.89 490.44,343.24 492.75,326.29 494.29,304.71 495.37,275.44 496.6,252.33 497.84,243.85 499.68,250.02 500.92,269.28 502,297.01 502.77,318.58 504,327.06 505.08,317.04 506.62,264.65 508.16,246.93 509.7,251.56 510.78,284.68 512.01,332.45 513.24,367.89 513.86,375.59 514.32,259.26 516.63,259.26 516.63,293.5" fill="#ff9a00" stroke="#ff9a00" stroke-width="2.4" stroke-linejoin="round"/>
<line x1="400.6" y1="293.5" x2="515" y2="293.5" stroke="#b89060" stroke-width="1.2"/>
<circle cx="400.6" cy="292.13" r="1.45" fill="#0000ff"/>
<circle cx="401.77" cy="290.96" r="1.45" fill="#ff0000"/>
<circle cx="402.93" cy="292.11" r="1.45" fill="#0000ff"/>
<circle cx="404.1" cy="293.67" r="1.45" fill="#00c000"/>
<circle cx="405.27" cy="295.23" r="1.45" fill="#0000ff"/>
<circle cx="406.44" cy="295.3" r="1.45" fill="#0000ff"/>
<circle cx="407.6" cy="293.74" r="1.45" fill="#00c000"/>
<circle cx="408.77" cy="291.75" r="1.45" fill="#0000ff"/>
<circle cx="409.94" cy="288.25" r="1.45" fill="#00c000"/>
<circle cx="411.11" cy="286.1" r="1.45" fill="#0000ff"/>
<circle cx="412.27" cy="284.47" r="1.45" fill="#00c000"/>
<circle cx="413.44" cy="285.21" r="1.45" fill="#00c000"/>
<circle cx="414.61" cy="286.38" r="1.45" fill="#0000ff"/>
<circle cx="415.78" cy="289.44" r="1.45" fill="#0000ff"/>
<circle cx="416.94" cy="293.22" r="1.45" fill="#00c000"/>
<circle cx="418.11" cy="295.64" r="1.45" fill="#ff0000"/>
<circle cx="419.28" cy="297.51" r="1.45" fill="#0000ff"/>
<circle cx="420.44" cy="297" r="1.45" fill="#0000ff"/>
<circle cx="421.61" cy="296.07" r="1.45" fill="#0000ff"/>
<circle cx="422.78" cy="293.77" r="1.45" fill="#0000ff"/>
<circle cx="423.95" cy="292.4" r="1.45" fill="#0000ff"/>
<circle cx="425.11" cy="292.11" r="1.45" fill="#00c000"/>
<circle cx="426.28" cy="292.67" r="1.45" fill="#0000ff"/>
<circle cx="427.45" cy="293.25" r="1.45" fill="#ff0000"/>
<circle cx="428.62" cy="293.42" r="1.45" fill="#00c000"/>
<circle cx="429.78" cy="293.42" r="1.45" fill="#00c000"/>
<circle cx="430.95" cy="292.86" r="1.45" fill="#0000ff"/>
<circle cx="432.12" cy="291.7" r="1.45" fill="#0000ff"/>
<circle cx="433.29" cy="290.6" r="1.45" fill="#ff0000"/>
<circle cx="434.45" cy="289.77" r="1.45" fill="#0000ff"/>
<circle cx="435.62" cy="288.94" r="1.45" fill="#0000ff"/>
<circle cx="436.79" cy="289.1" r="1.45" fill="#0000ff"/>
<circle cx="437.96" cy="289.93" r="1.45" fill="#0000ff"/>
<circle cx="439.12" cy="290.76" r="1.45" fill="#00c000"/>
<circle cx="440.29" cy="292.6" r="1.45" fill="#00c000"/>
<circle cx="441.46" cy="294.37" r="1.45" fill="#ff0000"/>
<circle cx="442.62" cy="295.2" r="1.45" fill="#0000ff"/>
<circle cx="443.79" cy="296.04" r="1.45" fill="#0000ff"/>
<circle cx="444.96" cy="296.56" r="1.45" fill="#0000ff"/>
<circle cx="446.13" cy="296.73" r="1.45" fill="#0000ff"/>
<circle cx="447.29" cy="296.89" r="1.45" fill="#0000ff"/>
<circle cx="448.46" cy="295.73" r="1.45" fill="#ff0000"/>
<circle cx="449.63" cy="294.33" r="1.45" fill="#0000ff"/>
<circle cx="450.8" cy="292.45" r="1.45" fill="#0000ff"/>
<circle cx="451.96" cy="290.55" r="1.45" fill="#ff0000"/>
<circle cx="453.13" cy="288.66" r="1.45" fill="#0000ff"/>
<circle cx="454.3" cy="289.54" r="1.45" fill="#0000ff"/>
<circle cx="455.47" cy="290.51" r="1.45" fill="#0000ff"/>
<circle cx="456.63" cy="292.32" r="1.45" fill="#0000ff"/>
<circle cx="457.8" cy="294.45" r="1.45" fill="#ff0000"/>
<circle cx="458.97" cy="296.58" r="1.45" fill="#0000ff"/>
<circle cx="460.13" cy="297.04" r="1.45" fill="#00c000"/>
<circle cx="461.3" cy="295.36" r="1.45" fill="#0000ff"/>
<circle cx="462.47" cy="293.67" r="1.45" fill="#0000ff"/>
<circle cx="463.64" cy="291.98" r="1.45" fill="#ff0000"/>
<circle cx="464.8" cy="290.3" r="1.45" fill="#0000ff"/>
<circle cx="465.97" cy="288.61" r="1.45" fill="#00c000"/>
<circle cx="467.14" cy="288.23" r="1.45" fill="#0000ff"/>
<circle cx="468.31" cy="289.17" r="1.45" fill="#0000ff"/>
<circle cx="469.47" cy="290.1" r="1.45" fill="#0000ff"/>
<circle cx="470.64" cy="291.37" r="1.45" fill="#0000ff"/>
<circle cx="471.81" cy="294" r="1.45" fill="#0000ff"/>
<circle cx="472.98" cy="296.62" r="1.45" fill="#0000ff"/>
<circle cx="474.14" cy="298.43" r="1.45" fill="#0000ff"/>
<circle cx="475.31" cy="299.6" r="1.45" fill="#0000ff"/>
<circle cx="476.48" cy="300.77" r="1.45" fill="#0000ff"/>
<circle cx="477.64" cy="297.91" r="1.45" fill="#0000ff"/>
<circle cx="478.81" cy="294.7" r="1.45" fill="#0000ff"/>
<circle cx="479.98" cy="290.1" r="1.45" fill="#0000ff"/>
<circle cx="481.15" cy="281.93" r="1.45" fill="#0000ff"/>
<circle cx="482.31" cy="279.36" r="1.45" fill="#00c000"/>
<circle cx="483.48" cy="277.03" r="1.45" fill="#0000ff"/>
<circle cx="484.65" cy="283.08" r="1.45" fill="#0000ff"/>
<circle cx="485.82" cy="289.3" r="1.45" fill="#0000ff"/>
<circle cx="486.98" cy="299.81" r="1.45" fill="#0000ff"/>
<circle cx="488.15" cy="321.12" r="1.45" fill="#ff0000"/>
<circle cx="489.32" cy="332.4" r="1.45" fill="#0000ff"/>
<circle cx="490.49" cy="342.89" r="1.45" fill="#0000ff"/>
<circle cx="491.65" cy="334.33" r="1.45" fill="#00c000"/>
<circle cx="492.82" cy="325.31" r="1.45" fill="#0000ff"/>
<circle cx="493.99" cy="308.96" r="1.45" fill="#ff0000"/>
<circle cx="495.16" cy="281.27" r="1.45" fill="#00c000"/>
<circle cx="496.32" cy="257.58" r="1.45" fill="#00c000"/>
<circle cx="497.49" cy="246.23" r="1.45" fill="#0000ff"/>
<circle cx="498.66" cy="246.59" r="1.45" fill="#00c000"/>
<circle cx="499.82" cy="252.21" r="1.45" fill="#ff0000"/>
<circle cx="500.99" cy="271.21" r="1.45" fill="#0000ff"/>
<circle cx="502.16" cy="301.6" r="1.45" fill="#0000ff"/>
<circle cx="503.33" cy="322.44" r="1.45" fill="#00c000"/>
<circle cx="504.49" cy="322.46" r="1.45" fill="#0000ff"/>
<circle cx="505.66" cy="297.18" r="1.45" fill="#0000ff"/>
<circle cx="506.83" cy="262.23" r="1.45" fill="#0000ff"/>
<circle cx="508" cy="248.81" r="1.45" fill="#0000ff"/>
<circle cx="509.16" cy="249.95" r="1.45" fill="#0000ff"/>
<circle cx="510.33" cy="270.94" r="1.45" fill="#ff0000"/>
<circle cx="511.5" cy="312.58" r="1.45" fill="#0000ff"/>
<circle cx="512.67" cy="351.27" r="1.45" fill="#0000ff"/>
<circle cx="513.83" cy="375.25" r="1.45" fill="#0000ff"/>
<circle cx="515" cy="259.26" r="1.45" fill="#0000ff"/>
<circle cx="412.45" cy="284.22" r="1.45" fill="#0000ff"/>
<circle cx="476.57" cy="300.86" r="1.45" fill="#ff0000"/>
<circle cx="483.51" cy="276.98" r="1.45" fill="#0000ff"/>
<circle cx="490.44" cy="343.24" r="1.45" fill="#00c000"/>
<circle cx="497.84" cy="243.85" r="1.45" fill="#0000ff"/>
<circle cx="504" cy="327.06" r="1.45" fill="#0000ff"/>
<circle cx="508.16" cy="246.93" r="1.45" fill="#00c000"/>
<circle cx="513.86" cy="375.59" r="1.45" fill="#0000ff"/>
<path d="M400.6 244.6V383.5H515" fill="none" stroke="#262626" stroke-width="1.3"/>
<line x1="400.6" y1="244.6" x2="515" y2="244.6" stroke="#262626" stroke-width="1.3"/>
<line x1="400.6" y1="249.4" x2="403.1" y2="249.4" stroke="#262626" stroke-width="0.8"/>
<text x="397.6" y="253.72" font-size="12" text-anchor="end" font-family="'Liberation Sans', sans-serif" font-weight="normal" fill="#383838">5</text>
<line x1="400.6" y1="293.6" x2="403.1" y2="293.6" stroke="#262626" stroke-width="0.8"/>
<text x="397.6" y="297.92" font-size="12" text-anchor="end" font-family="'Liberation Sans', sans-serif" font-weight="normal" fill="#383838">0</text>
<line x1="400.6" y1="339.2" x2="403.1" y2="339.2" stroke="#262626" stroke-width="0.8"/>
<text x="397.6" y="343.52" font-size="12" text-anchor="end" font-family="'Liberation Sans', sans-serif" font-weight="normal" fill="#383838">-5</text>
<line x1="400.6" y1="384" x2="403.1" y2="384" stroke="#262626" stroke-width="0.8"/>
<text x="397.6" y="388.32" font-size="12" text-anchor="end" font-family="'Liberation Sans', sans-serif" font-weight="normal" fill="#383838">-10</text>
<line x1="422.5" y1="381" x2="422.5" y2="383.5" stroke="#262626" stroke-width="0.8"/>
<line x1="422.5" y1="244.6" x2="422.5" y2="247.1" stroke="#262626" stroke-width="0.8"/>
<text x="422.5" y="398.82" font-size="12" text-anchor="middle" font-family="'Liberation Sans', sans-serif" font-weight="normal" fill="#383838">20</text>
<line x1="445.8" y1="381" x2="445.8" y2="383.5" stroke="#262626" stroke-width="0.8"/>
<line x1="445.8" y1="244.6" x2="445.8" y2="247.1" stroke="#262626" stroke-width="0.8"/>
<text x="445.8" y="398.82" font-size="12" text-anchor="middle" font-family="'Liberation Sans', sans-serif" font-weight="normal" fill="#383838">40</text>
<line x1="469.2" y1="381" x2="469.2" y2="383.5" stroke="#262626" stroke-width="0.8"/>
<line x1="469.2" y1="244.6" x2="469.2" y2="247.1" stroke="#262626" stroke-width="0.8"/>
<text x="469.2" y="398.82" font-size="12" text-anchor="middle" font-family="'Liberation Sans', sans-serif" font-weight="normal" fill="#383838">60</text>
<line x1="492.8" y1="381" x2="492.8" y2="383.5" stroke="#262626" stroke-width="0.8"/>
<line x1="492.8" y1="244.6" x2="492.8" y2="247.1" stroke="#262626" stroke-width="0.8"/>
<text x="492.8" y="398.82" font-size="12" text-anchor="middle" font-family="'Liberation Sans', sans-serif" font-weight="normal" fill="#383838">80</text>
<path d="M402 234.2L408 240.4M402 240.4L408 234.2" stroke="#707070" stroke-width="0.9" fill="none"/>
<text x="411.2" y="240.7" font-size="13" text-anchor="start" font-family="'Liberation Sans', sans-serif" font-weight="normal" fill="#383838" textLength="12.8" lengthAdjust="spacingAndGlyphs">10</text>
<text x="424.8" y="234.5" font-size="10" text-anchor="start" font-family="'Liberation Sans', sans-serif" font-weight="normal" fill="#383838">-5</text>
<text x="457.3" y="411.5" font-size="13" text-anchor="middle" font-family="'Liberation Serif', serif" font-weight="normal" fill="#383838">Time</text>
<text x="367.9" y="314" font-size="13" text-anchor="middle" font-family="'Liberation Serif', serif" font-weight="bold" fill="#3a3a3a" transform="rotate(-90 367.9 314)" textLength="27" lengthAdjust="spacingAndGlyphs">Error</text>
<polyline fill="none" stroke="#000" stroke-width="0.8" points="405,727.5 407.79,727.32 410.57,727.14 413.36,726.95 416.14,726.77 418.93,726.59 421.71,726.41 424.5,726.03 427.29,725.33 430.07,724.64 432.86,723.95 435.64,723.25 438.43,722.56 441.21,721.87 444,721.17 446.79,720.47 449.57,719.63 452.36,718.78 455.14,717.93 457.93,717.08 460.71,716.23 463.5,715.38 466.29,714.53 469.07,713.68 471.86,712.67 474.64,711.56 477.43,710.46 480.21,709.36 483,708.26 485.79,707.15 488.57,706.05 491.36,704.95 494.14,703.71 496.93,702.03 499.71,700.34 502.5,698.65 505.29,696.97 508.07,695.28 510.86,693.6 513.64,691.91 516.43,690.22 519.21,688.32 522,686.38 524.79,684.44 527.57,682.5 530.36,680.56 533.14,678.62 535.93,676.68 538.71,674.73 541.5,672.63 544.29,670.33 547.07,668.04 549.86,665.74 552.64,663.45 555.43,661.15 558.21,658.86 561,656.56 563.79,653.92 566.57,651.26 569.36,648.59 572.14,645.92 574.93,643.26 577.71,640.59 580.5,637.92 583.29,635.17 586.07,632.25 588.86,629.33 591.64,626.42 594.43,623.5 597.21,620.58 600,617.67 602.79,614.75 605.57,611.93 608.36,609.14 611.14,606.36 613.93,603.57 616.71,600.79 619.5,598 622.29,595.21 625.07,592.35 627.86,589 630.64,585.65 633.43,582.29 636.21,578.94 639,575.59 641.79,572.23 644.57,568.88 647.36,565.31 650.14,561.56 652.93,557.82 655.71,554.07 658.5,550.33 661.29,546.58 664.07,542.84 666.86,539.09 669.64,534.64 672.43,530.15 675.21,525.67 678,521.5"/>
<path d="M403.29 727.32h9M407.79 722.52v9.6" stroke="#0000ff" stroke-width="1.45" fill="none"/>
<path d="M406.07 727.14h9M410.57 722.34v9.6" stroke="#0000ff" stroke-width="1.45" fill="none"/>
<path d="M408.86 726.95h9M413.36 722.15v9.6" stroke="#0000ff" stroke-width="1.45" fill="none"/>
<path d="M411.64 726.77h9M416.14 721.97v9.6" stroke="#0000ff" stroke-width="1.45" fill="none"/>
<path d="M414.43 726.59h9M418.93 721.79v9.6" stroke="#0000ff" stroke-width="1.45" fill="none"/>
<path d="M417.21 726.41h9M421.71 721.61v9.6" stroke="#0000ff" stroke-width="1.45" fill="none"/>
<path d="M422.79 725.33h9M427.29 720.53v9.6" stroke="#0000ff" stroke-width="1.45" fill="none"/>
<path d="M428.36 723.95h9M432.86 719.15v9.6" stroke="#0000ff" stroke-width="1.45" fill="none"/>
<path d="M431.14 723.25h9M435.64 718.45v9.6" stroke="#0000ff" stroke-width="1.45" fill="none"/>
<path d="M433.93 722.56h9M438.43 717.76v9.6" stroke="#0000ff" stroke-width="1.45" fill="none"/>
<path d="M439.5 721.17h9M444 716.37v9.6" stroke="#0000ff" stroke-width="1.45" fill="none"/>
<path d="M442.29 720.47h9M446.79 715.67v9.6" stroke="#0000ff" stroke-width="1.45" fill="none"/>
<path d="M445.07 719.63h9M449.57 714.83v9.6" stroke="#0000ff" stroke-width="1.45" fill="none"/>
<path d="M450.64 717.93h9M455.14 713.13v9.6" stroke="#0000ff" stroke-width="1.45" fill="none"/>
<path d="M453.43 717.08h9M457.93 712.28v9.6" stroke="#0000ff" stroke-width="1.45" fill="none"/>
<path d="M459 715.38h9M463.5 710.58v9.6" stroke="#0000ff" stroke-width="1.45" fill="none"/>
<path d="M461.79 714.53h9M466.29 709.73v9.6" stroke="#0000ff" stroke-width="1.45" fill="none"/>
<path d="M467.36 712.67h9M471.86 707.87v9.6" stroke="#0000ff" stroke-width="1.45" fill="none"/>
<path d="M470.14 711.56h9M474.64 706.76v9.6" stroke="#0000ff" stroke-width="1.45" fill="none"/>
<path d="M472.93 710.46h9M477.43 705.66v9.6" stroke="#0000ff" stroke-width="1.45" fill="none"/>
<path d="M475.71 709.36h9M480.21 704.56v9.6" stroke="#0000ff" stroke-width="1.45" fill="none"/>
<path d="M481.29 707.15h9M485.79 702.35v9.6" stroke="#0000ff" stroke-width="1.45" fill="none"/>
<path d="M484.07 706.05h9M488.57 701.25v9.6" stroke="#0000ff" stroke-width="1.45" fill="none"/>
<path d="M486.86 704.95h9M491.36 700.15v9.6" stroke="#0000ff" stroke-width="1.45" fill="none"/>
<path d="M489.64 703.71h9M494.14 698.91v9.6" stroke="#0000ff" stroke-width="1.45" fill="none"/>
<path d="M492.43 702.03h9M496.93 697.23v9.6" stroke="#0000ff" stroke-width="1.45" fill="none"/>
<path d="M495.21 700.34h9M499.71 695.54v9.6" stroke="#0000ff" stroke-width="1.45" fill="none"/>
<path d="M498 698.65h9M502.5 693.85v9.6" stroke="#0000ff" stroke-width="1.45" fill="none"/>
<path d="M503.57 695.28h9M508.07 690.48v9.6" stroke="#0000ff" stroke-width="1.45" fill="none"/>
<path d="M509.14 691.91h9M513.64 687.11v9.6" stroke="#0000ff" stroke-width="1.45" fill="none"/>
<path d="M514.71 688.32h9M519.21 683.52v9.6" stroke="#0000ff" stroke-width="1.45" fill="none"/>
<path d="M517.5 686.38h9M522 681.58v9.6" stroke="#0000ff" stroke-width="1.45" fill="none"/>
<path d="M520.29 684.44h9M524.79 679.64v9.6" stroke="#0000ff" stroke-width="1.45" fill="none"/>
<path d="M525.86 680.56h9M530.36 675.76v9.6" stroke="#0000ff" stroke-width="1.45" fill="none"/>
<path d="M531.43 676.68h9M535.93 671.88v9.6" stroke="#0000ff" stroke-width="1.45" fill="none"/>
<path d="M534.21 674.73h9M538.71 669.93v9.6" stroke="#0000ff" stroke-width="1.45" fill="none"/>
<path d="M537 672.63h9M541.5 667.83v9.6" stroke="#0000ff" stroke-width="1.45" fill="none"/>
<path d="M539.79 670.33h9M544.29 665.53v9.6" stroke="#0000ff" stroke-width="1.45" fill="none"/>
<path d="M542.57 668.04h9M547.07 663.24v9.6" stroke="#0000ff" stroke-width="1.45" fill="none"/>
<path d="M548.14 663.45h9M552.64 658.65v9.6" stroke="#0000ff" stroke-width="1.45" fill="none"/>
<path d="M550.93 661.15h9M555.43 656.35v9.6" stroke="#0000ff" stroke-width="1.45" fill="none"/>
<path d="M553.71 658.86h9M558.21 654.06v9.6" stroke="#0000ff" stroke-width="1.45" fill="none"/>
<path d="M556.5 656.56h9M561 651.76v9.6" stroke="#0000ff" stroke-width="1.45" fill="none"/>
<path d="M559.29 653.92h9M563.79 649.12v9.6" stroke="#0000ff" stroke-width="1.45" fill="none"/>
<path d="M562.07 651.26h9M566.57 646.46v9.6" stroke="#0000ff" stroke-width="1.45" fill="none"/>
<path d="M564.86 648.59h9M569.36 643.79v9.6" stroke="#0000ff" stroke-width="1.45" fill="none"/>
<path d="M570.43 643.26h9M574.93 638.46v9.6" stroke="#0000ff" stroke-width="1.45" fill="none"/>
<path d="M573.21 640.59h9M577.71 635.79v9.6" stroke="#0000ff" stroke-width="1.45" fill="none"/>
<path d="M576 637.92h9M580.5 633.12v9.6" stroke="#0000ff" stroke-width="1.45" fill="none"/>
<path d="M578.79 635.17h9M583.29 630.37v9.6" stroke="#0000ff" stroke-width="1.45" fill="none"/>
<path d="M584.36 629.33h9M588.86 624.53v9.6" stroke="#0000ff" stroke-width="1.45" fill="none"/>
<path d="M587.14 626.42h9M591.64 621.62v9.6" stroke="#0000ff" stroke-width="1.45" fill="none"/>
<path d="M589.93 623.5h9M594.43 618.7v9.6" stroke="#0000ff" stroke-width="1.45" fill="none"/>
<path d="M592.71 620.58h9M597.21 615.78v9.6" stroke="#0000ff" stroke-width="1.45" fill="none"/>
<path d="M595.5 617.67h9M600 612.87v9.6" stroke="#0000ff" stroke-width="1.45" fill="none"/>
<path d="M598.29 614.75h9M602.79 609.95v9.6" stroke="#0000ff" stroke-width="1.45" fill="none"/>
<path d="M603.86 609.14h9M608.36 604.34v9.6" stroke="#0000ff" stroke-width="1.45" fill="none"/>
<path d="M606.64 606.36h9M611.14 601.56v9.6" stroke="#0000ff" stroke-width="1.45" fill="none"/>
<path d="M609.43 603.57h9M613.93 598.77v9.6" stroke="#0000ff" stroke-width="1.45" fill="none"/>
<path d="M612.21 600.79h9M616.71 595.99v9.6" stroke="#0000ff" stroke-width="1.45" fill="none"/>
<path d="M615 598h9M619.5 593.2v9.6" stroke="#0000ff" stroke-width="1.45" fill="none"/>
<path d="M617.79 595.21h9M622.29 590.41v9.6" stroke="#0000ff" stroke-width="1.45" fill="none"/>
<path d="M620.57 592.35h9M625.07 587.55v9.6" stroke="#0000ff" stroke-width="1.45" fill="none"/>
<path d="M623.36 589h9M627.86 584.2v9.6" stroke="#0000ff" stroke-width="1.45" fill="none"/>
<path d="M626.14 585.65h9M630.64 580.85v9.6" stroke="#0000ff" stroke-width="1.45" fill="none"/>
<path d="M628.93 582.29h9M633.43 577.49v9.6" stroke="#0000ff" stroke-width="1.45" fill="none"/>
<path d="M631.71 578.94h9M636.21 574.14v9.6" stroke="#0000ff" stroke-width="1.45" fill="none"/>
<path d="M634.5 575.59h9M639 570.79v9.6" stroke="#0000ff" stroke-width="1.45" fill="none"/>
<path d="M640.07 568.88h9M644.57 564.08v9.6" stroke="#0000ff" stroke-width="1.45" fill="none"/>
<path d="M642.86 565.31h9M647.36 560.51v9.6" stroke="#0000ff" stroke-width="1.45" fill="none"/>
<path d="M648.43 557.82h9M652.93 553.02v9.6" stroke="#0000ff" stroke-width="1.45" fill="none"/>
<path d="M651.21 554.07h9M655.71 549.27v9.6" stroke="#0000ff" stroke-width="1.45" fill="none"/>
<path d="M654 550.33h9M658.5 545.53v9.6" stroke="#0000ff" stroke-width="1.45" fill="none"/>
<path d="M659.57 542.84h9M664.07 538.04v9.6" stroke="#0000ff" stroke-width="1.45" fill="none"/>
<path d="M665.14 534.64h9M669.64 529.84v9.6" stroke="#0000ff" stroke-width="1.45" fill="none"/>
<path d="M670.71 525.67h9M675.21 520.87v9.6" stroke="#0000ff" stroke-width="1.45" fill="none"/>
<path d="M673.5 521.5h9M678 516.7v9.6" stroke="#0000ff" stroke-width="1.45" fill="none"/>
<path d="M400.5 727.5h9M405 722.7v9.6" stroke="#ff0000" stroke-width="1.45" fill="none"/>
<path d="M420 726.03h9M424.5 721.23v9.6" stroke="#ff0000" stroke-width="1.45" fill="none"/>
<path d="M425.57 724.64h9M430.07 719.84v9.6" stroke="#ff0000" stroke-width="1.45" fill="none"/>
<path d="M436.71 721.87h9M441.21 717.07v9.6" stroke="#ff0000" stroke-width="1.45" fill="none"/>
<path d="M447.86 718.78h9M452.36 713.98v9.6" stroke="#ff0000" stroke-width="1.45" fill="none"/>
<path d="M456.21 716.23h9M460.71 711.43v9.6" stroke="#00c000" stroke-width="1.45" fill="none"/>
<path d="M464.57 713.68h9M469.07 708.88v9.6" stroke="#00c000" stroke-width="1.45" fill="none"/>
<path d="M478.5 708.26h9M483 703.46v9.6" stroke="#ff0000" stroke-width="1.45" fill="none"/>
<path d="M500.79 696.97h9M505.29 692.17v9.6" stroke="#00c000" stroke-width="1.45" fill="none"/>
<path d="M506.36 693.6h9M510.86 688.8v9.6" stroke="#00c000" stroke-width="1.45" fill="none"/>
<path d="M511.93 690.22h9M516.43 685.42v9.6" stroke="#ff0000" stroke-width="1.45" fill="none"/>
<path d="M523.07 682.5h9M527.57 677.7v9.6" stroke="#ff0000" stroke-width="1.45" fill="none"/>
<path d="M528.64 678.62h9M533.14 673.82v9.6" stroke="#ff0000" stroke-width="1.45" fill="none"/>
<path d="M545.36 665.74h9M549.86 660.94v9.6" stroke="#00c000" stroke-width="1.45" fill="none"/>
<path d="M567.64 645.92h9M572.14 641.12v9.6" stroke="#ff0000" stroke-width="1.45" fill="none"/>
<path d="M581.57 632.25h9M586.07 627.45v9.6" stroke="#00c000" stroke-width="1.45" fill="none"/>
<path d="M601.07 611.93h9M605.57 607.13v9.6" stroke="#00c000" stroke-width="1.45" fill="none"/>
<path d="M637.29 572.23h9M641.79 567.43v9.6" stroke="#ff0000" stroke-width="1.45" fill="none"/>
<path d="M645.64 561.56h9M650.14 556.76v9.6" stroke="#00c000" stroke-width="1.45" fill="none"/>
<path d="M656.79 546.58h9M661.29 541.78v9.6" stroke="#00c000" stroke-width="1.45" fill="none"/>
<path d="M662.36 539.09h9M666.86 534.29v9.6" stroke="#00c000" stroke-width="1.45" fill="none"/>
<path d="M667.93 530.15h9M672.43 525.35v9.6" stroke="#00c000" stroke-width="1.45" fill="none"/>
<path d="M405 521.3V727H678V521.3" fill="none" stroke="#262626" stroke-width="1.3"/>
<line x1="405" y1="521.3" x2="678" y2="521.3" stroke="#262626" stroke-width="1.3"/>
<line x1="405" y1="521.3" x2="409" y2="521.3" stroke="#262626" stroke-width="1"/>
<line x1="674" y1="521.3" x2="678" y2="521.3" stroke="#262626" stroke-width="1"/>
<text x="399.8" y="527.12" font-size="14.5" text-anchor="end" font-family="'Liberation Sans', sans-serif" font-weight="normal" fill="#383838">1</text>
<line x1="405" y1="586" x2="409" y2="586" stroke="#262626" stroke-width="1"/>
<line x1="674" y1="586" x2="678" y2="586" stroke="#262626" stroke-width="1"/>
<text x="399.8" y="591.82" font-size="14.5" text-anchor="end" font-family="'Liberation Sans', sans-serif" font-weight="normal" fill="#383838">0.95</text>
<line x1="405" y1="651" x2="409" y2="651" stroke="#262626" stroke-width="1"/>
<line x1="674" y1="651" x2="678" y2="651" stroke="#262626" stroke-width="1"/>
<text x="399.8" y="656.82" font-size="14.5" text-anchor="end" font-family="'Liberation Sans', sans-serif" font-weight="normal" fill="#383838">0.9</text>
<line x1="405" y1="716.5" x2="409" y2="716.5" stroke="#262626" stroke-width="1"/>
<line x1="674" y1="716.5" x2="678" y2="716.5" stroke="#262626" stroke-width="1"/>
<text x="399.8" y="722.32" font-size="14.5" text-anchor="end" font-family="'Liberation Sans', sans-serif" font-weight="normal" fill="#383838">0.85</text>
<line x1="457.2" y1="521.3" x2="457.2" y2="524.3" stroke="#262626" stroke-width="1"/>
<line x1="457.2" y1="724" x2="457.2" y2="727" stroke="#262626" stroke-width="1"/>
<line x1="513.5" y1="521.3" x2="513.5" y2="524.3" stroke="#262626" stroke-width="1"/>
<line x1="513.5" y1="724" x2="513.5" y2="727" stroke="#262626" stroke-width="1"/>
<line x1="569.6" y1="521.3" x2="569.6" y2="524.3" stroke="#262626" stroke-width="1"/>
<line x1="569.6" y1="724" x2="569.6" y2="727" stroke="#262626" stroke-width="1"/>
<line x1="625.7" y1="521.3" x2="625.7" y2="524.3" stroke="#262626" stroke-width="1"/>
<line x1="625.7" y1="724" x2="625.7" y2="727" stroke="#262626" stroke-width="1"/>
<text x="539.8" y="514.15" font-size="13.5" text-anchor="middle" font-family="'Liberation Serif', serif" font-weight="bold" fill="#111" textLength="277.5" lengthAdjust="spacingAndGlyphs">Response of Output Element 1 for Time-Series 1</text>
<text x="367.06" y="623.5" font-size="14.2" text-anchor="middle" font-family="'Liberation Serif', serif" font-weight="normal" fill="#383838" transform="rotate(-90 367.06 623.5)" textLength="99" lengthAdjust="spacingAndGlyphs">Output and Target</text>
<rect x="515.7" y="727.2" width="161.9" height="194.1" fill="#fff" stroke="#262626" stroke-width="1.2"/>
<rect x="541.7" y="741.8" width="2" height="2" fill="#0000ff"/>
<text x="568.9" y="747.37" font-size="12.7" text-anchor="start" font-family="'Liberation Sans', sans-serif" font-weight="normal" fill="#222">Training Targets</text>
<path d="M538.2 766.4h9M542.7 761.9v9" stroke="#0000ff" stroke-width="1.1" fill="none"/>
<text x="568.9" y="770.97" font-size="12.7" text-anchor="start" font-family="'Liberation Sans', sans-serif" font-weight="normal" fill="#222">Training Outputs</text>
<rect x="541.7" y="789" width="2" height="2" fill="#00c000"/>
<text x="568.9" y="794.57" font-size="12.7" text-anchor="start" font-family="'Liberation Sans', sans-serif" font-weight="normal" fill="#222">Validation Targets</text>
<path d="M538.2 813.6h9M542.7 809.1v9" stroke="#00c000" stroke-width="1.1" fill="none"/>
<text x="568.9" y="818.17" font-size="12.7" text-anchor="start" font-family="'Liberation Sans', sans-serif" font-weight="normal" fill="#222">Validation Outputs</text>
<rect x="541.7" y="836.2" width="2" height="2" fill="#ff0000"/>
<text x="568.9" y="841.77" font-size="12.7" text-anchor="start" font-family="'Liberation Sans', sans-serif" font-weight="normal" fill="#222">Test Targets</text>
<path d="M538.2 860.8h9M542.7 856.3v9" stroke="#ff0000" stroke-width="1.1" fill="none"/>
<text x="568.9" y="865.37" font-size="12.7" text-anchor="start" font-family="'Liberation Sans', sans-serif" font-weight="normal" fill="#222">Test Outputs</text>
<line x1="520.7" y1="884.4" x2="565.2" y2="884.4" stroke="#ff9a00" stroke-width="2.6"/>
<text x="568.9" y="888.97" font-size="12.7" text-anchor="start" font-family="'Liberation Sans', sans-serif" font-weight="normal" fill="#222">Errors</text>
<line x1="520.7" y1="908" x2="565.2" y2="908" stroke="#222" stroke-width="1"/>
<text x="568.9" y="912.57" font-size="12.7" text-anchor="start" font-family="'Liberation Sans', sans-serif" font-weight="normal" fill="#222">Response</text>
<rect x="398.4" y="921.3" width="279.2" height="21.3" fill="#fff" stroke="#262626" stroke-width="1.2"/>
<rect x="486.5" y="930.95" width="2" height="2" fill="#0000ff"/>
<text x="517.1" y="936.52" font-size="12.7" text-anchor="start" font-family="'Liberation Sans', sans-serif" font-weight="normal" fill="#222">Targets - Outputs</text>
<polygon points="401,828.2 401,838 402,799 404,806 406,841 408,826 411,793 413,809 415,840 417,837 419,813 421,823 423,835 425,833 427,826 429,825 432,829 434,833 436,828 439,822 442,826 444,829 448,826 451,830 453,833 455,826 457,816 459,826 461,844 463,826 464.55,815.88 465,817 466.09,820.5 467,833 467.33,832.83 468.87,851.32 470,866 470.41,865.96 471.95,852.86 472,856 473.49,833.6 474.26,812.03 475.03,800.47 476.57,808.17 477.8,829.75 478.88,852.86 479.96,862.87 481.19,851.32 482.73,792.77 484.58,782.75 485.82,803.55 487.05,843.61 488.9,862.1 489.67,889.07 491.21,818.96 492.75,789.68 494.29,790.45 495.83,812.8 496.6,842.07 498.45,859.02 499.99,838.99 501.22,815.11 502.46,797.39 504,795.85 505.08,811.26 506.16,837.45 507.39,859.79 508.16,869.81 509.7,859.79 511.7,792 513.24,758.87 514.32,750.39 515.4,781.98 516.63,872.12 516.63,828.2" fill="#ff9a00" stroke="#ff9a00" stroke-width="2.4" stroke-linejoin="round"/>
<line x1="401.6" y1="828.2" x2="515.9" y2="828.2" stroke="#b89060" stroke-width="1.2"/>
<circle cx="401.6" cy="814.6" r="1.45" fill="#ff0000"/>
<circle cx="402.77" cy="801.68" r="1.45" fill="#ff0000"/>
<circle cx="403.93" cy="805.76" r="1.45" fill="#ff0000"/>
<circle cx="405.1" cy="825.23" r="1.45" fill="#ff0000"/>
<circle cx="406.27" cy="839.01" r="1.45" fill="#0000ff"/>
<circle cx="407.43" cy="830.26" r="1.45" fill="#0000ff"/>
<circle cx="408.6" cy="819.42" r="1.45" fill="#ff0000"/>
<circle cx="409.76" cy="806.59" r="1.45" fill="#00c000"/>
<circle cx="410.93" cy="793.76" r="1.45" fill="#0000ff"/>
<circle cx="412.1" cy="801.78" r="1.45" fill="#0000ff"/>
<circle cx="413.26" cy="813.08" r="1.45" fill="#0000ff"/>
<circle cx="414.43" cy="831.16" r="1.45" fill="#0000ff"/>
<circle cx="415.6" cy="839.11" r="1.45" fill="#0000ff"/>
<circle cx="416.76" cy="837.36" r="1.45" fill="#0000ff"/>
<circle cx="417.93" cy="825.86" r="1.45" fill="#0000ff"/>
<circle cx="419.09" cy="813.47" r="1.45" fill="#0000ff"/>
<circle cx="420.26" cy="819.31" r="1.45" fill="#00c000"/>
<circle cx="421.43" cy="825.57" r="1.45" fill="#0000ff"/>
<circle cx="422.59" cy="832.56" r="1.45" fill="#0000ff"/>
<circle cx="423.76" cy="834.24" r="1.45" fill="#0000ff"/>
<circle cx="424.93" cy="833.07" r="1.45" fill="#0000ff"/>
<circle cx="426.09" cy="829.17" r="1.45" fill="#0000ff"/>
<circle cx="427.26" cy="825.87" r="1.45" fill="#0000ff"/>
<circle cx="428.43" cy="825.29" r="1.45" fill="#00c000"/>
<circle cx="429.59" cy="825.79" r="1.45" fill="#0000ff"/>
<circle cx="430.76" cy="827.34" r="1.45" fill="#00c000"/>
<circle cx="431.92" cy="828.9" r="1.45" fill="#00c000"/>
<circle cx="433.09" cy="831.18" r="1.45" fill="#ff0000"/>
<circle cx="434.26" cy="832.36" r="1.45" fill="#ff0000"/>
<circle cx="435.42" cy="829.44" r="1.45" fill="#0000ff"/>
<circle cx="436.59" cy="826.82" r="1.45" fill="#00c000"/>
<circle cx="437.76" cy="824.49" r="1.45" fill="#00c000"/>
<circle cx="438.92" cy="822.16" r="1.45" fill="#ff0000"/>
<circle cx="440.09" cy="823.45" r="1.45" fill="#00c000"/>
<circle cx="441.26" cy="825.01" r="1.45" fill="#0000ff"/>
<circle cx="442.42" cy="826.63" r="1.45" fill="#00c000"/>
<circle cx="443.59" cy="828.38" r="1.45" fill="#0000ff"/>
<circle cx="444.75" cy="828.43" r="1.45" fill="#0000ff"/>
<circle cx="445.92" cy="827.56" r="1.45" fill="#00c000"/>
<circle cx="447.09" cy="826.68" r="1.45" fill="#ff0000"/>
<circle cx="448.25" cy="826.34" r="1.45" fill="#0000ff"/>
<circle cx="449.42" cy="827.89" r="1.45" fill="#0000ff"/>
<circle cx="450.59" cy="829.45" r="1.45" fill="#00c000"/>
<circle cx="451.75" cy="831.13" r="1.45" fill="#0000ff"/>
<circle cx="452.92" cy="832.88" r="1.45" fill="#0000ff"/>
<circle cx="454.08" cy="829.2" r="1.45" fill="#0000ff"/>
<circle cx="455.25" cy="824.74" r="1.45" fill="#0000ff"/>
<circle cx="456.42" cy="818.91" r="1.45" fill="#00c000"/>
<circle cx="457.58" cy="818.92" r="1.45" fill="#00c000"/>
<circle cx="458.75" cy="824.75" r="1.45" fill="#0000ff"/>
<circle cx="459.92" cy="834.25" r="1.45" fill="#ff0000"/>
<circle cx="461.08" cy="843.26" r="1.45" fill="#0000ff"/>
<circle cx="462.25" cy="832.76" r="1.45" fill="#ff0000"/>
<circle cx="463.42" cy="823.29" r="1.45" fill="#00c000"/>
<circle cx="464.58" cy="815.95" r="1.45" fill="#0000ff"/>
<circle cx="465.75" cy="819.39" r="1.45" fill="#0000ff"/>
<circle cx="466.91" cy="831.82" r="1.45" fill="#00c000"/>
<circle cx="468.08" cy="841.87" r="1.45" fill="#0000ff"/>
<circle cx="469.25" cy="856.24" r="1.45" fill="#00c000"/>
<circle cx="470.41" cy="865.91" r="1.45" fill="#0000ff"/>
<circle cx="471.58" cy="856" r="1.45" fill="#0000ff"/>
<circle cx="472.75" cy="844.78" r="1.45" fill="#0000ff"/>
<circle cx="473.91" cy="821.77" r="1.45" fill="#0000ff"/>
<circle cx="475.08" cy="800.71" r="1.45" fill="#ff0000"/>
<circle cx="476.24" cy="806.54" r="1.45" fill="#0000ff"/>
<circle cx="477.41" cy="822.87" r="1.45" fill="#ff0000"/>
<circle cx="478.58" cy="846.32" r="1.45" fill="#0000ff"/>
<circle cx="479.74" cy="860.85" r="1.45" fill="#0000ff"/>
<circle cx="480.91" cy="853.98" r="1.45" fill="#0000ff"/>
<circle cx="482.08" cy="817.79" r="1.45" fill="#0000ff"/>
<circle cx="483.24" cy="790.01" r="1.45" fill="#ff0000"/>
<circle cx="484.41" cy="783.7" r="1.45" fill="#0000ff"/>
<circle cx="485.58" cy="799.48" r="1.45" fill="#0000ff"/>
<circle cx="486.74" cy="833.62" r="1.45" fill="#0000ff"/>
<circle cx="487.91" cy="852.2" r="1.45" fill="#0000ff"/>
<circle cx="489.07" cy="868.27" r="1.45" fill="#0000ff"/>
<circle cx="490.24" cy="863.04" r="1.45" fill="#0000ff"/>
<circle cx="491.41" cy="815.21" r="1.45" fill="#ff0000"/>
<circle cx="492.57" cy="793.05" r="1.45" fill="#0000ff"/>
<circle cx="493.74" cy="790.18" r="1.45" fill="#0000ff"/>
<circle cx="494.91" cy="799.37" r="1.45" fill="#00c000"/>
<circle cx="496.07" cy="821.93" r="1.45" fill="#00c000"/>
<circle cx="497.24" cy="847.91" r="1.45" fill="#ff0000"/>
<circle cx="498.41" cy="858.6" r="1.45" fill="#ff0000"/>
<circle cx="499.57" cy="844.46" r="1.45" fill="#0000ff"/>
<circle cx="500.74" cy="824.55" r="1.45" fill="#0000ff"/>
<circle cx="501.9" cy="805.35" r="1.45" fill="#0000ff"/>
<circle cx="503.07" cy="796.78" r="1.45" fill="#0000ff"/>
<circle cx="504.24" cy="799.25" r="1.45" fill="#0000ff"/>
<circle cx="505.4" cy="819.17" r="1.45" fill="#0000ff"/>
<circle cx="506.57" cy="844.95" r="1.45" fill="#0000ff"/>
<circle cx="507.74" cy="864.31" r="1.45" fill="#ff0000"/>
<circle cx="508.9" cy="864.98" r="1.45" fill="#ff0000"/>
<circle cx="510.07" cy="847.31" r="1.45" fill="#ff0000"/>
<circle cx="511.23" cy="807.83" r="1.45" fill="#ff0000"/>
<circle cx="512.4" cy="776.98" r="1.45" fill="#0000ff"/>
<circle cx="513.57" cy="756.32" r="1.45" fill="#0000ff"/>
<circle cx="514.73" cy="762.45" r="1.45" fill="#0000ff"/>
<circle cx="515.9" cy="818.5" r="1.45" fill="#0000ff"/>
<circle cx="402" cy="799" r="1.45" fill="#ff0000"/>
<circle cx="406" cy="841" r="1.45" fill="#ff0000"/>
<circle cx="411" cy="793" r="1.45" fill="#ff0000"/>
<circle cx="415" cy="840" r="1.45" fill="#ff0000"/>
<circle cx="419" cy="813" r="1.45" fill="#0000ff"/>
<circle cx="423" cy="835" r="1.45" fill="#0000ff"/>
<circle cx="439" cy="822" r="1.45" fill="#ff0000"/>
<circle cx="457" cy="816" r="1.45" fill="#00c000"/>
<circle cx="461" cy="844" r="1.45" fill="#0000ff"/>
<circle cx="464.55" cy="815.88" r="1.45" fill="#0000ff"/>
<circle cx="470" cy="866" r="1.45" fill="#0000ff"/>
<circle cx="471.95" cy="852.86" r="1.45" fill="#0000ff"/>
<circle cx="472" cy="856" r="1.45" fill="#0000ff"/>
<circle cx="475.03" cy="800.47" r="1.45" fill="#0000ff"/>
<circle cx="479.96" cy="862.87" r="1.45" fill="#0000ff"/>
<circle cx="484.58" cy="782.75" r="1.45" fill="#0000ff"/>
<circle cx="489.67" cy="889.07" r="1.45" fill="#00c000"/>
<circle cx="492.75" cy="789.68" r="1.45" fill="#0000ff"/>
<circle cx="498.45" cy="859.02" r="1.45" fill="#0000ff"/>
<circle cx="504" cy="795.85" r="1.45" fill="#0000ff"/>
<circle cx="508.16" cy="869.81" r="1.45" fill="#0000ff"/>
<circle cx="514.32" cy="750.39" r="1.45" fill="#0000ff"/>
<path d="M401.6 751V888.8H515.9" fill="none" stroke="#262626" stroke-width="1.3"/>
<line x1="401.6" y1="751" x2="515.9" y2="751" stroke="#262626" stroke-width="1.3"/>
<line x1="401.6" y1="772" x2="404.1" y2="772" stroke="#262626" stroke-width="0.8"/>
<text x="398.6" y="776.32" font-size="12" text-anchor="end" font-family="'Liberation Sans', sans-serif" font-weight="normal" fill="#383838">5</text>
<line x1="401.6" y1="828.2" x2="404.1" y2="828.2" stroke="#262626" stroke-width="0.8"/>
<text x="398.6" y="832.52" font-size="12" text-anchor="end" font-family="'Liberation Sans', sans-serif" font-weight="normal" fill="#383838">0</text>
<line x1="401.6" y1="884.8" x2="404.1" y2="884.8" stroke="#262626" stroke-width="0.8"/>
<text x="398.6" y="889.12" font-size="12" text-anchor="end" font-family="'Liberation Sans', sans-serif" font-weight="normal" fill="#383838">-5</text>
<line x1="423.6" y1="886.3" x2="423.6" y2="888.8" stroke="#262626" stroke-width="0.8"/>
<line x1="423.6" y1="751" x2="423.6" y2="753.5" stroke="#262626" stroke-width="0.8"/>
<text x="423.6" y="904.12" font-size="12" text-anchor="middle" font-family="'Liberation Sans', sans-serif" font-weight="normal" fill="#383838">20</text>
<line x1="447" y1="886.3" x2="447" y2="888.8" stroke="#262626" stroke-width="0.8"/>
<line x1="447" y1="751" x2="447" y2="753.5" stroke="#262626" stroke-width="0.8"/>
<text x="447" y="904.12" font-size="12" text-anchor="middle" font-family="'Liberation Sans', sans-serif" font-weight="normal" fill="#383838">40</text>
<line x1="470.2" y1="886.3" x2="470.2" y2="888.8" stroke="#262626" stroke-width="0.8"/>
<line x1="470.2" y1="751" x2="470.2" y2="753.5" stroke="#262626" stroke-width="0.8"/>
<text x="470.2" y="904.12" font-size="12" text-anchor="middle" font-family="'Liberation Sans', sans-serif" font-weight="normal" fill="#383838">60</text>
<line x1="493.6" y1="886.3" x2="493.6" y2="888.8" stroke="#262626" stroke-width="0.8"/>
<line x1="493.6" y1="751" x2="493.6" y2="753.5" stroke="#262626" stroke-width="0.8"/>
<text x="493.6" y="904.12" font-size="12" text-anchor="middle" font-family="'Liberation Sans', sans-serif" font-weight="normal" fill="#383838">80</text>
<path d="M402.7 740.3L408.7 746.5M402.7 746.5L408.7 740.3" stroke="#707070" stroke-width="0.9" fill="none"/>
<text x="411.9" y="746.8" font-size="13" text-anchor="start" font-family="'Liberation Sans', sans-serif" font-weight="normal" fill="#383838" textLength="12.8" lengthAdjust="spacingAndGlyphs">10</text>
<text x="425.5" y="740.6" font-size="10" text-anchor="start" font-family="'Liberation Sans', sans-serif" font-weight="normal" fill="#383838">-5</text>
<text x="458.4" y="915.9" font-size="13" text-anchor="middle" font-family="'Liberation Serif', serif" font-weight="normal" fill="#383838">Time</text>
<text x="367.9" y="820" font-size="13" text-anchor="middle" font-family="'Liberation Serif', serif" font-weight="bold" fill="#3a3a3a" transform="rotate(-90 367.9 820)" textLength="27" lengthAdjust="spacingAndGlyphs">Error</text>
<text x="103" y="461.4" font-size="15" text-anchor="start" font-family="'Liberation Serif', serif" font-weight="bold" fill="#000">a)</text>
<text x="130.4" y="461.4" font-size="15" text-anchor="start" font-family="'Liberation Serif', serif" font-weight="bold" fill="#000">Regression of S-4 C-1</text>
<text x="451.9" y="461.4" font-size="15" text-anchor="start" font-family="'Liberation Serif', serif" font-weight="bold" fill="#000">b)</text>
<text x="478.6" y="461.4" font-size="15" text-anchor="start" font-family="'Liberation Serif', serif" font-weight="bold" fill="#000">Fitness graph of S-4 C-1</text>
<text x="92.4" y="968.1" font-size="15" text-anchor="start" font-family="'Liberation Serif', serif" font-weight="bold" fill="#000">c)</text>
<text x="119.3" y="968.1" font-size="15" text-anchor="start" font-family="'Liberation Serif', serif" font-weight="bold" fill="#000">Regression of S-4 C-2</text>
<text x="441.3" y="967.9" font-size="15" text-anchor="start" font-family="'Liberation Serif', serif" font-weight="bold" fill="#000">d)</text>
<text x="468.1" y="967.9" font-size="15" text-anchor="start" font-family="'Liberation Serif', serif" font-weight="bold" fill="#000">Fitness graph of S-4 C-2</text>
</svg>
</body></html>
